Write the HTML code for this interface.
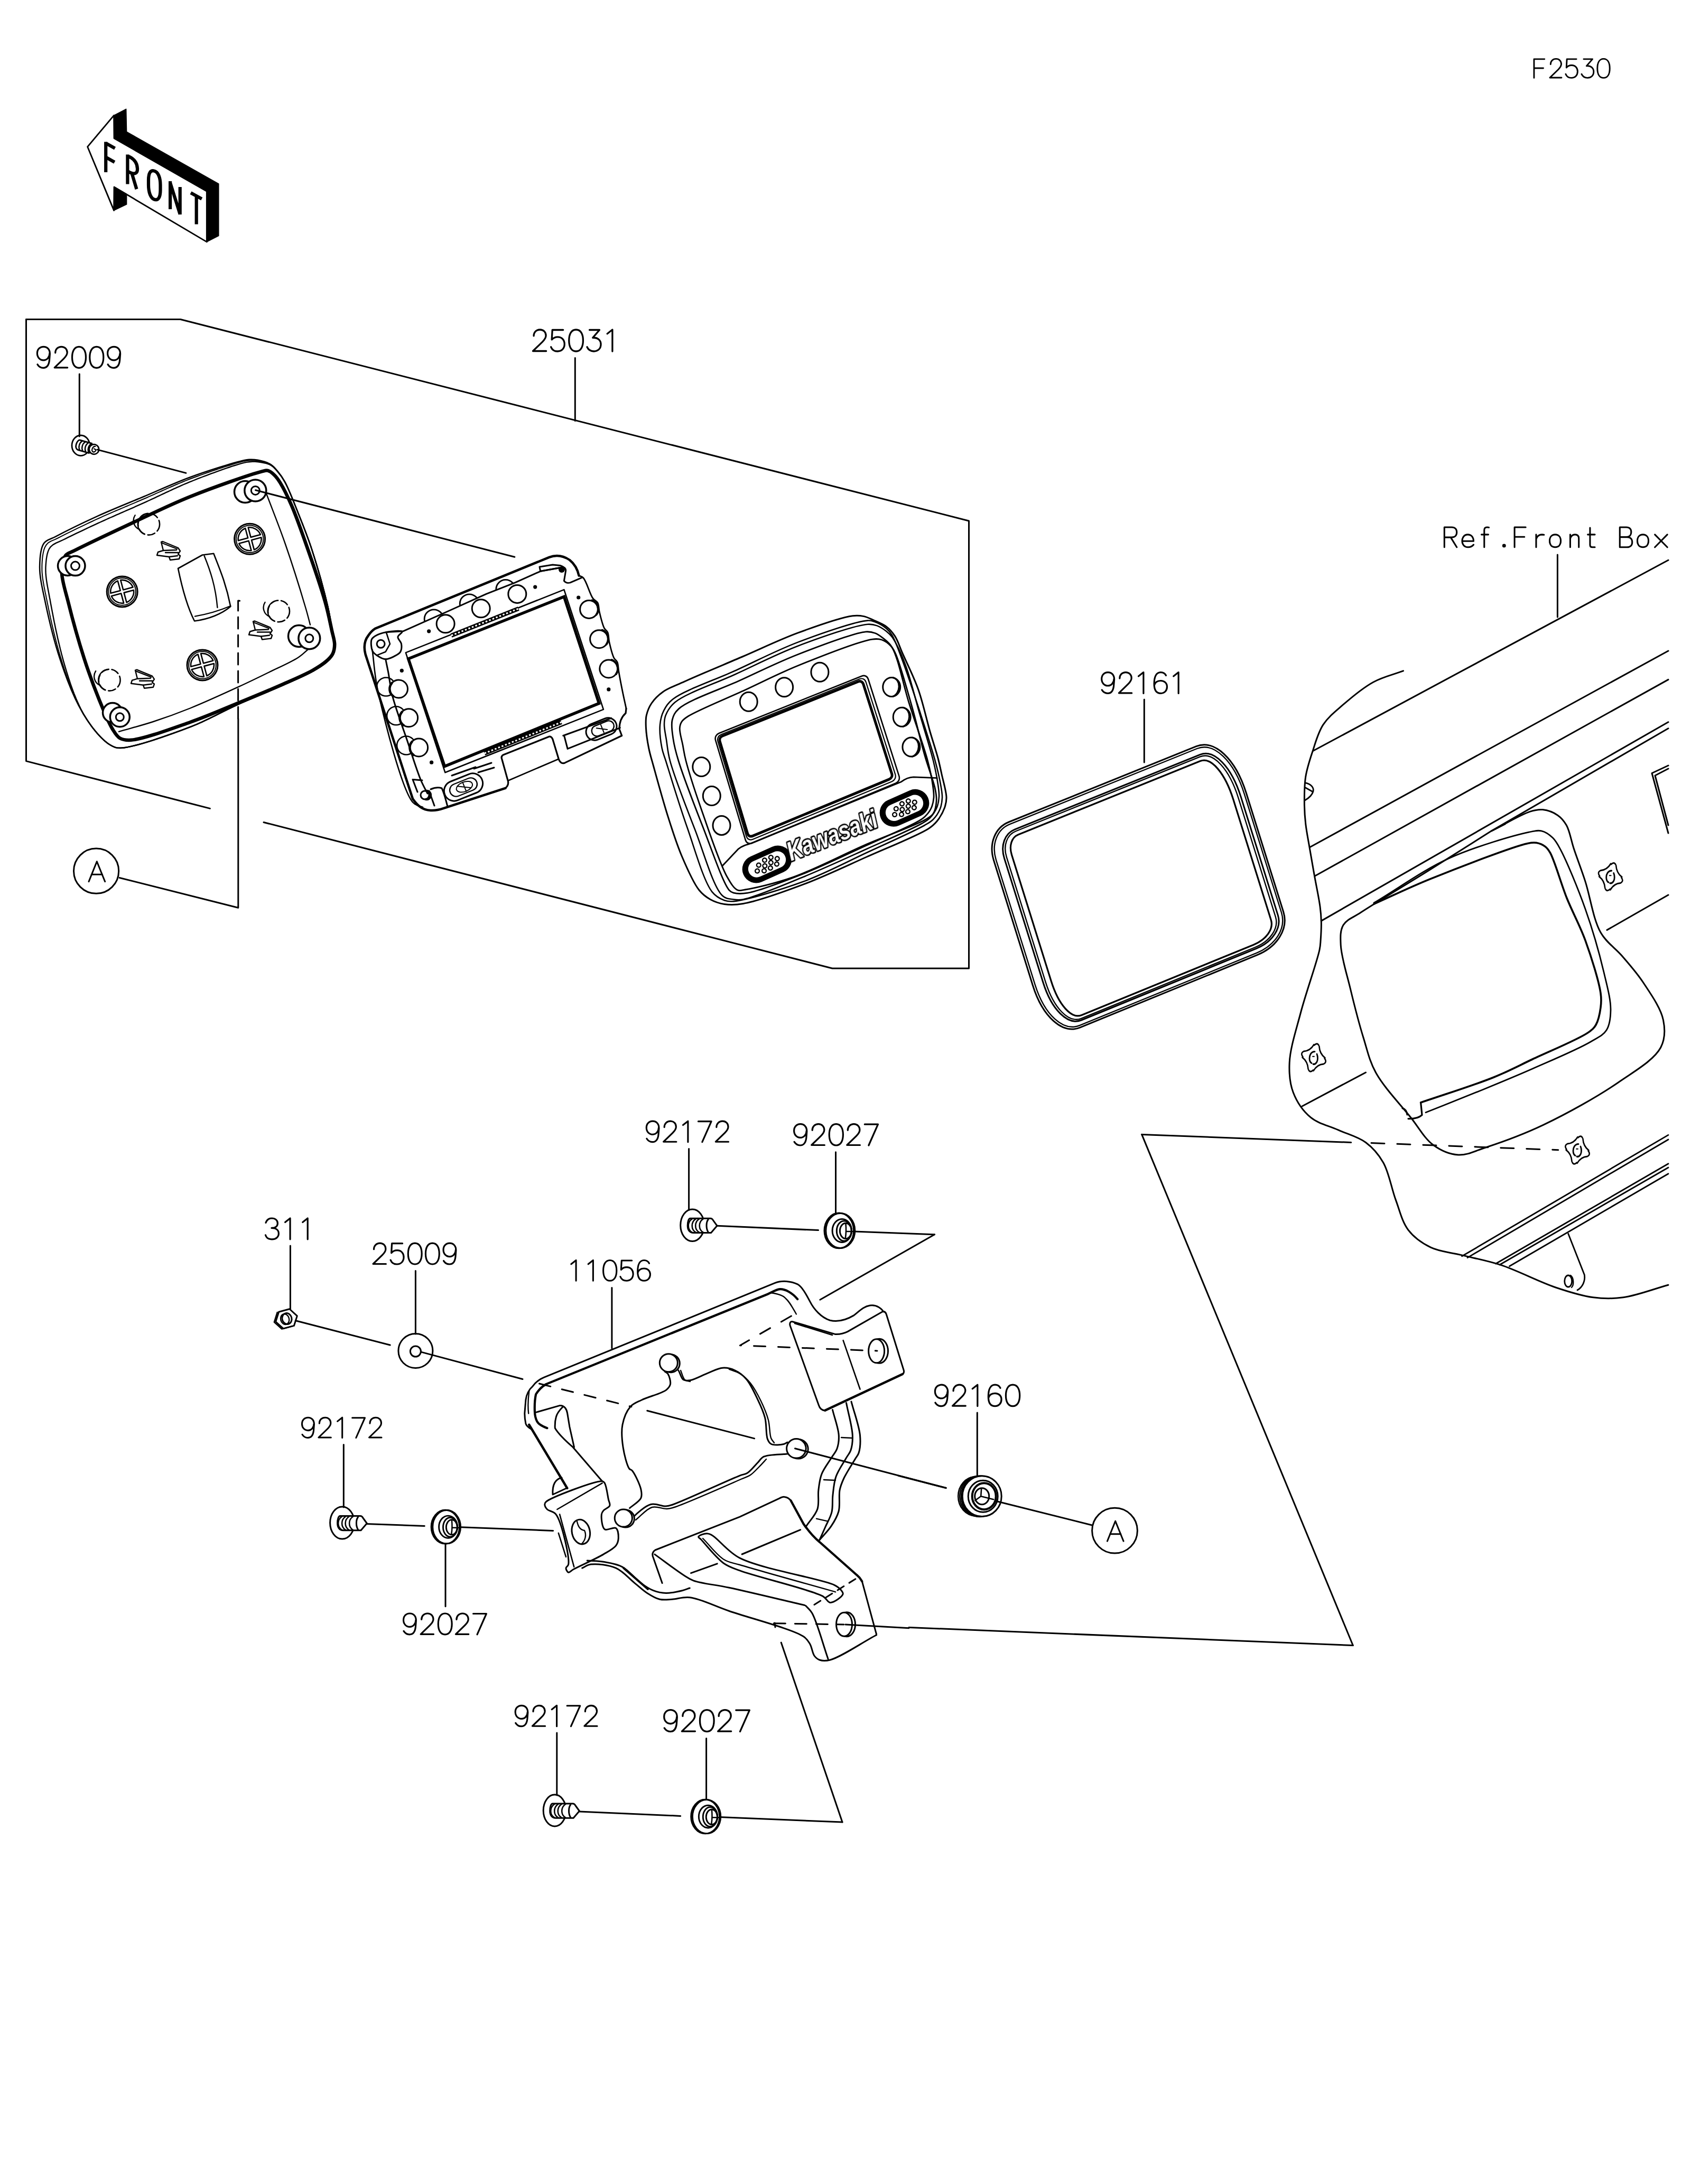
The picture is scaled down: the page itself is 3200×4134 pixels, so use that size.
<!DOCTYPE html>
<html><head><meta charset="utf-8"><style>
html,body{margin:0;padding:0;background:#fff;width:3200px;height:4134px;overflow:hidden}
svg{display:block}
</style></head><body>
<svg xmlns="http://www.w3.org/2000/svg" width="3200" height="4134" viewBox="0 0 3200 4134">
<rect width="3200" height="4134" fill="#fff"/>
<g fill="none" stroke="#000" stroke-linecap="round" stroke-linejoin="round">
<g id="labels" stroke-width="3.2">
<path transform="translate(2902.50 111.40) scale(0.9000)" d="M22.5,0.5 L0.5,0.5 L0.5,40 M0.5,19.5 L20,19.5"/>
<path transform="translate(2932.47 111.40) scale(0.9000)" d="M2,11.5 C2,4.5 7,0 13.5,0 C20,0 24.5,4.5 24.5,11 C24.5,15.5 22,18.5 18,22.5 L0.5,39.5 L25,39.5"/>
<path transform="translate(2962.44 111.40) scale(0.9000)" d="M23,0.5 L3,0.5 L2,18.5 C4.5,15.5 8,13.5 13,13.5 C21,13.5 25.5,19.5 25.5,26.5 C25.5,34.5 20.5,40 12.5,40 C6.5,40 2.5,37 0.5,32"/>
<path transform="translate(2992.41 111.40) scale(0.9000)" d="M5,0.5 L23.5,0.5 L11,15 C20,14 26,19.5 26,27 C26,35 20.5,40 13,40 C7,40 3,37.5 0.5,32"/>
<path transform="translate(3022.38 111.40) scale(0.9000)" d="M13.5,0 C5,0 0.5,8 0.5,20 C0.5,32 5,40 13.5,40 C22,40 26.5,32 26.5,20 C26.5,8 22,0 13.5,0 Z"/>
<path transform="translate(69.40 656.30) scale(1.0000)" d="M24.5,12.5 C24.5,19.5 19.5,25.5 13,25.5 C6,25.5 1,20 1,12.5 C1,5 6,0 13,0 C20,0 25,5 25,13.5 L24,26 C23,35 19,40 12.5,40 C7.5,40 4,37.5 1.5,33.5"/>
<path transform="translate(102.70 656.30) scale(1.0000)" d="M2,11.5 C2,4.5 7,0 13.5,0 C20,0 24.5,4.5 24.5,11 C24.5,15.5 22,18.5 18,22.5 L0.5,39.5 L25,39.5"/>
<path transform="translate(136.00 656.30) scale(1.0000)" d="M13.5,0 C5,0 0.5,8 0.5,20 C0.5,32 5,40 13.5,40 C22,40 26.5,32 26.5,20 C26.5,8 22,0 13.5,0 Z"/>
<path transform="translate(169.30 656.30) scale(1.0000)" d="M13.5,0 C5,0 0.5,8 0.5,20 C0.5,32 5,40 13.5,40 C22,40 26.5,32 26.5,20 C26.5,8 22,0 13.5,0 Z"/>
<path transform="translate(202.60 656.30) scale(1.0000)" d="M24.5,12.5 C24.5,19.5 19.5,25.5 13,25.5 C6,25.5 1,20 1,12.5 C1,5 6,0 13,0 C20,0 25,5 25,13.5 L24,26 C23,35 19,40 12.5,40 C7.5,40 4,37.5 1.5,33.5"/>
<path transform="translate(1008.00 624.00) scale(1.0250)" d="M2,11.5 C2,4.5 7,0 13.5,0 C20,0 24.5,4.5 24.5,11 C24.5,15.5 22,18.5 18,22.5 L0.5,39.5 L25,39.5"/>
<path transform="translate(1042.13 624.00) scale(1.0250)" d="M23,0.5 L3,0.5 L2,18.5 C4.5,15.5 8,13.5 13,13.5 C21,13.5 25.5,19.5 25.5,26.5 C25.5,34.5 20.5,40 12.5,40 C6.5,40 2.5,37 0.5,32"/>
<path transform="translate(1076.26 624.00) scale(1.0250)" d="M13.5,0 C5,0 0.5,8 0.5,20 C0.5,32 5,40 13.5,40 C22,40 26.5,32 26.5,20 C26.5,8 22,0 13.5,0 Z"/>
<path transform="translate(1110.40 624.00) scale(1.0250)" d="M5,0.5 L23.5,0.5 L11,15 C20,14 26,19.5 26,27 C26,35 20.5,40 13,40 C7,40 3,37.5 0.5,32"/>
<path transform="translate(1144.53 624.00) scale(1.0250)" d="M4.5,7.5 L14,0 L14,40"/>
<path transform="translate(2083.70 1272.60) scale(0.9950)" d="M24.5,12.5 C24.5,19.5 19.5,25.5 13,25.5 C6,25.5 1,20 1,12.5 C1,5 6,0 13,0 C20,0 25,5 25,13.5 L24,26 C23,35 19,40 12.5,40 C7.5,40 4,37.5 1.5,33.5"/>
<path transform="translate(2116.83 1272.60) scale(0.9950)" d="M2,11.5 C2,4.5 7,0 13.5,0 C20,0 24.5,4.5 24.5,11 C24.5,15.5 22,18.5 18,22.5 L0.5,39.5 L25,39.5"/>
<path transform="translate(2149.97 1272.60) scale(0.9950)" d="M4.5,7.5 L14,0 L14,40"/>
<path transform="translate(2183.10 1272.60) scale(0.9950)" d="M23.5,6 C21.5,2 17.5,0 13.5,0 C5,0 1,8.5 1,22 C1,34 5.5,40 13.5,40 C21,40 25.5,34.5 25.5,27.5 C25.5,20.5 20.5,16 13.5,16 C7,16 2.5,19.5 1,25"/>
<path transform="translate(2216.23 1272.60) scale(0.9950)" d="M4.5,7.5 L14,0 L14,40"/>
<path transform="translate(2732.80 997.50) scale(0.9575)" d="M0.5,40 L0.5,0.5 L15,0.5 C21.5,0.5 25,4.5 25,10.5 C25,16.5 21.5,20.5 15,20.5 L0.5,20.5 M13,20.5 L25,40"/>
<path transform="translate(2766.00 997.50) scale(0.9575)" d="M1,28 L23.5,28 C23.5,20 19,15 12,15 C5,15 1,21 1,27.5 C1,35 5.5,40 12.5,40 C17,40 21,38.5 23.5,35"/>
<path transform="translate(2799.20 997.50) scale(0.9575)" d="M19,1 C18,0.5 17,0.5 15.5,0.5 C12,0.5 10,2.5 10,6 L10,40 M4.5,15 L18,15"/>
<path transform="translate(2832.40 997.50) scale(0.9575)" d="M12.5,37 a2,2 0 1,0 4,0 a2,2 0 1,0 -4,0"/>
<path transform="translate(2865.60 997.50) scale(0.9575)" d="M22.5,0.5 L0.5,0.5 L0.5,40 M0.5,19.5 L20,19.5"/>
<path transform="translate(2898.80 997.50) scale(0.9575)" d="M8.5,15 L8.5,40 M8.5,24 C10.5,18 15,15 20,15 L24,15.5"/>
<path transform="translate(2932.00 997.50) scale(0.9575)" d="M11.5,15 C4.5,15 0.5,20 0.5,27.5 C0.5,35 4.5,40 11.5,40 C18.5,40 22.5,35 22.5,27.5 C22.5,20 18.5,15 11.5,15 Z"/>
<path transform="translate(2965.20 997.50) scale(0.9575)" d="M6.5,15 L6.5,40 M6.5,23 C8,18 11.5,15 16,15 C21,15 23.5,18 23.5,23 L23.5,40"/>
<path transform="translate(2998.40 997.50) scale(0.9575)" d="M11,1.5 L11,35.5 C11,38.5 12.5,40 15.5,40 L20.5,40 M6.5,15 L20.5,15"/>
<path transform="translate(3064.80 997.50) scale(0.9575)" d="M0.5,0.5 L0.5,40 L15,40 C21.5,40 25,36 25,30 C25,24 21.5,20 15,20 L0.5,20 M0.5,0.5 L13.5,0.5 C19.5,0.5 23,4 23,10 C23,16 19.5,20 13.5,20"/>
<path transform="translate(3098.00 997.50) scale(0.9575)" d="M11.5,15 C4.5,15 0.5,20 0.5,27.5 C0.5,35 4.5,40 11.5,40 C18.5,40 22.5,35 22.5,27.5 C22.5,20 18.5,15 11.5,15 Z"/>
<path transform="translate(3131.20 997.50) scale(0.9575)" d="M0.5,15 L25,40 M25,15 L0.5,40"/>
<path transform="translate(1222.30 2122.20) scale(0.9875)" d="M24.5,12.5 C24.5,19.5 19.5,25.5 13,25.5 C6,25.5 1,20 1,12.5 C1,5 6,0 13,0 C20,0 25,5 25,13.5 L24,26 C23,35 19,40 12.5,40 C7.5,40 4,37.5 1.5,33.5"/>
<path transform="translate(1255.18 2122.20) scale(0.9875)" d="M2,11.5 C2,4.5 7,0 13.5,0 C20,0 24.5,4.5 24.5,11 C24.5,15.5 22,18.5 18,22.5 L0.5,39.5 L25,39.5"/>
<path transform="translate(1288.07 2122.20) scale(0.9875)" d="M4.5,7.5 L14,0 L14,40"/>
<path transform="translate(1320.95 2122.20) scale(0.9875)" d="M0.5,0.5 L25.5,0.5 L8,40"/>
<path transform="translate(1353.84 2122.20) scale(0.9875)" d="M2,11.5 C2,4.5 7,0 13.5,0 C20,0 24.5,4.5 24.5,11 C24.5,15.5 22,18.5 18,22.5 L0.5,39.5 L25,39.5"/>
<path transform="translate(1501.60 2127.70) scale(1.0075)" d="M24.5,12.5 C24.5,19.5 19.5,25.5 13,25.5 C6,25.5 1,20 1,12.5 C1,5 6,0 13,0 C20,0 25,5 25,13.5 L24,26 C23,35 19,40 12.5,40 C7.5,40 4,37.5 1.5,33.5"/>
<path transform="translate(1535.15 2127.70) scale(1.0075)" d="M2,11.5 C2,4.5 7,0 13.5,0 C20,0 24.5,4.5 24.5,11 C24.5,15.5 22,18.5 18,22.5 L0.5,39.5 L25,39.5"/>
<path transform="translate(1568.70 2127.70) scale(1.0075)" d="M13.5,0 C5,0 0.5,8 0.5,20 C0.5,32 5,40 13.5,40 C22,40 26.5,32 26.5,20 C26.5,8 22,0 13.5,0 Z"/>
<path transform="translate(1602.25 2127.70) scale(1.0075)" d="M2,11.5 C2,4.5 7,0 13.5,0 C20,0 24.5,4.5 24.5,11 C24.5,15.5 22,18.5 18,22.5 L0.5,39.5 L25,39.5"/>
<path transform="translate(1635.80 2127.70) scale(1.0075)" d="M0.5,0.5 L25.5,0.5 L8,40"/>
<path transform="translate(502.00 2306.00) scale(0.9950)" d="M1,8.5 C3,3 7.5,0 12.5,0 C19,0 23.5,4 23.5,9.5 C23.5,15 19.5,18.5 12,18.5 M12,18.5 C20.5,18.5 25.5,22.5 25.5,29 C25.5,36 20,40 12.5,40 C6,40 2,37 0.5,32"/>
<path transform="translate(535.13 2306.00) scale(0.9950)" d="M4.5,7.5 L14,0 L14,40"/>
<path transform="translate(568.27 2306.00) scale(0.9950)" d="M4.5,7.5 L14,0 L14,40"/>
<path transform="translate(705.50 2353.20) scale(0.9950)" d="M2,11.5 C2,4.5 7,0 13.5,0 C20,0 24.5,4.5 24.5,11 C24.5,15.5 22,18.5 18,22.5 L0.5,39.5 L25,39.5"/>
<path transform="translate(738.63 2353.20) scale(0.9950)" d="M23,0.5 L3,0.5 L2,18.5 C4.5,15.5 8,13.5 13,13.5 C21,13.5 25.5,19.5 25.5,26.5 C25.5,34.5 20.5,40 12.5,40 C6.5,40 2.5,37 0.5,32"/>
<path transform="translate(771.77 2353.20) scale(0.9950)" d="M13.5,0 C5,0 0.5,8 0.5,20 C0.5,32 5,40 13.5,40 C22,40 26.5,32 26.5,20 C26.5,8 22,0 13.5,0 Z"/>
<path transform="translate(804.90 2353.20) scale(0.9950)" d="M13.5,0 C5,0 0.5,8 0.5,20 C0.5,32 5,40 13.5,40 C22,40 26.5,32 26.5,20 C26.5,8 22,0 13.5,0 Z"/>
<path transform="translate(838.03 2353.20) scale(0.9950)" d="M24.5,12.5 C24.5,19.5 19.5,25.5 13,25.5 C6,25.5 1,20 1,12.5 C1,5 6,0 13,0 C20,0 25,5 25,13.5 L24,26 C23,35 19,40 12.5,40 C7.5,40 4,37.5 1.5,33.5"/>
<path transform="translate(1076.50 2385.50) scale(0.9700)" d="M4.5,7.5 L14,0 L14,40"/>
<path transform="translate(1108.80 2385.50) scale(0.9700)" d="M4.5,7.5 L14,0 L14,40"/>
<path transform="translate(1141.10 2385.50) scale(0.9700)" d="M13.5,0 C5,0 0.5,8 0.5,20 C0.5,32 5,40 13.5,40 C22,40 26.5,32 26.5,20 C26.5,8 22,0 13.5,0 Z"/>
<path transform="translate(1173.40 2385.50) scale(0.9700)" d="M23,0.5 L3,0.5 L2,18.5 C4.5,15.5 8,13.5 13,13.5 C21,13.5 25.5,19.5 25.5,26.5 C25.5,34.5 20.5,40 12.5,40 C6.5,40 2.5,37 0.5,32"/>
<path transform="translate(1205.70 2385.50) scale(0.9700)" d="M23.5,6 C21.5,2 17.5,0 13.5,0 C5,0 1,8.5 1,22 C1,34 5.5,40 13.5,40 C21,40 25.5,34.5 25.5,27.5 C25.5,20.5 20.5,16 13.5,16 C7,16 2.5,19.5 1,25"/>
<path transform="translate(1768.40 2621.20) scale(1.0100)" d="M24.5,12.5 C24.5,19.5 19.5,25.5 13,25.5 C6,25.5 1,20 1,12.5 C1,5 6,0 13,0 C20,0 25,5 25,13.5 L24,26 C23,35 19,40 12.5,40 C7.5,40 4,37.5 1.5,33.5"/>
<path transform="translate(1802.03 2621.20) scale(1.0100)" d="M2,11.5 C2,4.5 7,0 13.5,0 C20,0 24.5,4.5 24.5,11 C24.5,15.5 22,18.5 18,22.5 L0.5,39.5 L25,39.5"/>
<path transform="translate(1835.67 2621.20) scale(1.0100)" d="M4.5,7.5 L14,0 L14,40"/>
<path transform="translate(1869.30 2621.20) scale(1.0100)" d="M23.5,6 C21.5,2 17.5,0 13.5,0 C5,0 1,8.5 1,22 C1,34 5.5,40 13.5,40 C21,40 25.5,34.5 25.5,27.5 C25.5,20.5 20.5,16 13.5,16 C7,16 2.5,19.5 1,25"/>
<path transform="translate(1902.93 2621.20) scale(1.0100)" d="M13.5,0 C5,0 0.5,8 0.5,20 C0.5,32 5,40 13.5,40 C22,40 26.5,32 26.5,20 C26.5,8 22,0 13.5,0 Z"/>
<path transform="translate(570.50 2683.20) scale(0.9575)" d="M24.5,12.5 C24.5,19.5 19.5,25.5 13,25.5 C6,25.5 1,20 1,12.5 C1,5 6,0 13,0 C20,0 25,5 25,13.5 L24,26 C23,35 19,40 12.5,40 C7.5,40 4,37.5 1.5,33.5"/>
<path transform="translate(602.38 2683.20) scale(0.9575)" d="M2,11.5 C2,4.5 7,0 13.5,0 C20,0 24.5,4.5 24.5,11 C24.5,15.5 22,18.5 18,22.5 L0.5,39.5 L25,39.5"/>
<path transform="translate(634.27 2683.20) scale(0.9575)" d="M4.5,7.5 L14,0 L14,40"/>
<path transform="translate(666.15 2683.20) scale(0.9575)" d="M0.5,0.5 L25.5,0.5 L8,40"/>
<path transform="translate(698.04 2683.20) scale(0.9575)" d="M2,11.5 C2,4.5 7,0 13.5,0 C20,0 24.5,4.5 24.5,11 C24.5,15.5 22,18.5 18,22.5 L0.5,39.5 L25,39.5"/>
<path transform="translate(762.50 3054.00) scale(0.9950)" d="M24.5,12.5 C24.5,19.5 19.5,25.5 13,25.5 C6,25.5 1,20 1,12.5 C1,5 6,0 13,0 C20,0 25,5 25,13.5 L24,26 C23,35 19,40 12.5,40 C7.5,40 4,37.5 1.5,33.5"/>
<path transform="translate(795.63 3054.00) scale(0.9950)" d="M2,11.5 C2,4.5 7,0 13.5,0 C20,0 24.5,4.5 24.5,11 C24.5,15.5 22,18.5 18,22.5 L0.5,39.5 L25,39.5"/>
<path transform="translate(828.77 3054.00) scale(0.9950)" d="M13.5,0 C5,0 0.5,8 0.5,20 C0.5,32 5,40 13.5,40 C22,40 26.5,32 26.5,20 C26.5,8 22,0 13.5,0 Z"/>
<path transform="translate(861.90 3054.00) scale(0.9950)" d="M2,11.5 C2,4.5 7,0 13.5,0 C20,0 24.5,4.5 24.5,11 C24.5,15.5 22,18.5 18,22.5 L0.5,39.5 L25,39.5"/>
<path transform="translate(895.03 3054.00) scale(0.9950)" d="M0.5,0.5 L25.5,0.5 L8,40"/>
<path transform="translate(974.20 3228.30) scale(0.9850)" d="M24.5,12.5 C24.5,19.5 19.5,25.5 13,25.5 C6,25.5 1,20 1,12.5 C1,5 6,0 13,0 C20,0 25,5 25,13.5 L24,26 C23,35 19,40 12.5,40 C7.5,40 4,37.5 1.5,33.5"/>
<path transform="translate(1007.00 3228.30) scale(0.9850)" d="M2,11.5 C2,4.5 7,0 13.5,0 C20,0 24.5,4.5 24.5,11 C24.5,15.5 22,18.5 18,22.5 L0.5,39.5 L25,39.5"/>
<path transform="translate(1039.80 3228.30) scale(0.9850)" d="M4.5,7.5 L14,0 L14,40"/>
<path transform="translate(1072.60 3228.30) scale(0.9850)" d="M0.5,0.5 L25.5,0.5 L8,40"/>
<path transform="translate(1105.40 3228.30) scale(0.9850)" d="M2,11.5 C2,4.5 7,0 13.5,0 C20,0 24.5,4.5 24.5,11 C24.5,15.5 22,18.5 18,22.5 L0.5,39.5 L25,39.5"/>
<path transform="translate(1255.70 3236.60) scale(1.0250)" d="M24.5,12.5 C24.5,19.5 19.5,25.5 13,25.5 C6,25.5 1,20 1,12.5 C1,5 6,0 13,0 C20,0 25,5 25,13.5 L24,26 C23,35 19,40 12.5,40 C7.5,40 4,37.5 1.5,33.5"/>
<path transform="translate(1289.83 3236.60) scale(1.0250)" d="M2,11.5 C2,4.5 7,0 13.5,0 C20,0 24.5,4.5 24.5,11 C24.5,15.5 22,18.5 18,22.5 L0.5,39.5 L25,39.5"/>
<path transform="translate(1323.97 3236.60) scale(1.0250)" d="M13.5,0 C5,0 0.5,8 0.5,20 C0.5,32 5,40 13.5,40 C22,40 26.5,32 26.5,20 C26.5,8 22,0 13.5,0 Z"/>
<path transform="translate(1358.10 3236.60) scale(1.0250)" d="M2,11.5 C2,4.5 7,0 13.5,0 C20,0 24.5,4.5 24.5,11 C24.5,15.5 22,18.5 18,22.5 L0.5,39.5 L25,39.5"/>
<path transform="translate(1392.23 3236.60) scale(1.0250)" d="M0.5,0.5 L25.5,0.5 L8,40"/>
</g>
<circle cx="182.1" cy="1648.7" r="42.6" stroke-width="3"/>
<path stroke-width="3" d="M168.0,1668.7 L183.3,1630.7 L198.7,1668.7 M173.1,1655.2 L193.6,1655.2"/>
<circle cx="2109.5" cy="2897.2" r="42.9" stroke-width="3"/>
<path stroke-width="3" d="M2095.4,2917.2 L2110.7,2879.2 L2126.1,2917.2 M2100.5,2903.7 L2121.0,2903.7"/>
<path d="M49.5,604.5 L341.5,604.5 L1833.5,986.0 L1833.5,1833.0 L1575.0,1833.0 L499.0,1556.5" stroke-width="3.0"/>
<path d="M397.4,1530.4 L49.5,1440.6 L49.5,604.5" stroke-width="3.0"/>
<path d="M1088.3,677.4 L1088.3,796.5" stroke-width="3.0"/>
<path d="M150.3,708.0 L150.3,826.0" stroke-width="3.0"/>
<path d="M2165.3,1324.0 L2165.3,1443.0" stroke-width="3.0"/>
<path d="M2947.4,1050.0 L2947.4,1168.0" stroke-width="3.0"/>
<path d="M1303.6,2174.6 L1303.6,2290.0" stroke-width="3.0"/>
<path d="M1581.5,2180.8 L1581.5,2298.0" stroke-width="3.0"/>
<path d="M549.4,2358.0 L549.4,2478.0" stroke-width="3.0"/>
<path d="M786.4,2405.4 L786.4,2525.0" stroke-width="3.0"/>
<path d="M1157.9,2437.6 L1157.9,2552.0" stroke-width="3.0"/>
<path d="M1849.3,2674.0 L1849.3,2794.0" stroke-width="3.0"/>
<path d="M650.3,2734.5 L650.3,2853.0" stroke-width="3.0"/>
<path d="M843.0,2923.3 L843.0,3040.8" stroke-width="3.0"/>
<path d="M1053.8,3280.0 L1053.8,3398.0" stroke-width="3.0"/>
<path d="M1336.6,3290.4 L1336.6,3406.3" stroke-width="3.0"/>
<path d="M226.1,1661.5 L450.8,1718.3 L450.8,1360.5" stroke-width="3.0"/>
<path d="M450.6,1360 L450.6,1137 L465,1138.5" stroke-width="3.0" stroke-dasharray="22 12"/>
<path fill="#000" stroke="#000" stroke-width="1.5" d="M215.6,218.4 L238.7,206.3 L239.6,249.4 L413.8,347.9 L413.8,446.3 L391.3,457.9 L391.3,362 L216,261.8 Z"/>
<path fill="#000" stroke="#000" stroke-width="1.5" d="M216,354 L239.6,367.4 L239.6,386.9 L215.6,398.4 Z"/>
<path fill="none" stroke="#000" stroke-width="2.8" d="M165.6,277.8 L215.6,218.4 L216,261.8 L391.3,362 L391.3,457.9 L216,354 L215.6,398.4 Z"/>
<g stroke-width="6.2" stroke-linecap="butt" stroke-linejoin="miter" fill="none">
<path d="M200.2,268.5 L200.2,326 M200.2,271 L217.5,280.8 M200.2,297.5 L216.8,307"/>
<path d="M241.4,292.5 L241.4,348.5 M241.4,295.5 C252,299 259.5,307 260,319 C260.5,328 255,331 246,326.5 L241.4,324 M249.5,328 L258.5,358"/>
<path d="M291.5,323.5 C299,325 303.5,336 303.5,350 L303.5,360 C303.5,374 299,380 292,377.5 C285,375 281,364 281,350 L281,341 C281,327 285,322 291.5,323.5 Z"/>
<path d="M322.1,343 L322.1,396 M322.1,346 L340.7,405.5 M340.7,354 L340.7,406"/>
<path d="M361,365 L381.8,376.5 M371.7,370.5 L371.7,424.5"/>
</g>
<path stroke-width="2.6" d="M75.1,1072.9 C75.3,1056.6 76.3,1038.0 83.0,1028.5 C87.9,1021.5 94.9,1021.2 104.4,1016.1 C122.4,1006.5 156.8,989.6 184.2,977.1 C212.6,964.2 242.7,952.3 272.0,940.0 C301.3,927.7 329.7,914.3 360.0,903.2 C391.4,891.7 439.5,876.5 457.6,872.2 C464.4,870.6 466.9,870.1 471.8,869.9 C476.9,869.6 481.9,869.8 487.7,870.9 C495.2,872.4 506.0,875.2 512.6,879.3 C518.2,882.8 521.7,887.5 525.9,892.6 C530.6,898.3 534.5,903.6 539.2,912.1 C546.8,926.1 555.8,950.1 564.0,970.6 C573.0,993.0 582.0,1015.2 590.6,1041.6 C601.1,1073.7 614.4,1122.0 620.8,1150.0 C624.8,1167.5 626.1,1180.3 628.5,1193.0 C630.4,1203.1 633.9,1211.7 634.0,1220.0 C634.1,1227.0 633.2,1233.7 630.5,1239.3 C627.8,1244.8 623.4,1248.9 618.0,1253.5 C610.9,1259.6 601.5,1265.3 590.6,1271.3 C576.0,1279.4 557.5,1287.0 537.4,1296.0 C511.7,1307.5 478.2,1320.9 448.7,1334.2 C419.0,1347.6 393.0,1363.3 360.0,1376.0 C321.0,1391.0 252.1,1415.4 228.5,1415.9 C219.9,1416.1 216.9,1414.6 210.8,1411.4 C202.3,1407.0 193.0,1398.4 184.2,1388.4 C172.3,1374.9 159.6,1355.8 148.7,1335.1 C135.4,1309.9 123.4,1277.7 113.2,1246.4 C102.2,1212.9 92.3,1171.5 85.7,1140.0 C80.5,1115.2 74.9,1093.0 75.1,1072.9 Z"/>
<path stroke-width="2" d="M618.4,1140.0 L619.5,1144.4 L620.5,1148.7 L621.5,1153.2 L622.4,1157.7 L623.3,1162.2 L624.1,1166.7 L624.9,1171.3 L625.7,1175.9 L626.4,1180.6 L627.2,1185.3 L628.0,1190.1 L628.9,1195.0 L630.1,1200.0 L631.4,1205.2 L632.7,1210.4 L633.7,1215.6 L634.0,1220.7 L633.8,1225.7 L633.2,1230.6 L632.0,1235.4 L630.2,1239.9 L627.5,1244.0 L624.2,1247.9 L620.3,1251.5 L616.4,1254.9 L612.1,1258.1 L607.7,1261.1 L603.2,1264.0 L598.6,1266.7 L594.1,1269.4 L589.5,1271.9 L584.9,1274.3 L580.4,1276.6 L575.8,1278.8 L571.3,1280.9 L566.8,1283.0 L562.4,1285.0 L558.0,1286.9 L553.7,1288.8 L549.5,1290.6 L545.4,1292.5 L541.3,1294.3 L537.3,1296.0 L533.4,1297.8 L529.5,1299.5 L525.6,1301.2 L521.8,1302.8 L518.1,1304.4 L514.3,1306.0 L510.6,1307.6 L507.0,1309.1 L503.3,1310.7 L499.8,1312.2 L496.2,1313.7 L492.7,1315.2 L489.2,1316.7 L485.7,1318.1 L482.2,1319.6 L478.8,1321.1 L475.4,1322.5 L472.0,1324.0 L468.6,1325.4 L465.2,1326.9 L461.9,1328.4 L458.5,1329.8 L455.2,1331.3 L451.8,1332.8 L448.5,1334.3 L445.2,1335.8 L441.8,1337.4 L438.5,1339.0 L435.2,1340.6 L431.8,1342.2 L428.5,1343.9 L425.1,1345.5 L421.7,1347.2 L418.2,1349.0 L414.8,1350.7 L411.3,1352.5 L407.8,1354.3 L404.2,1356.0 L400.6,1357.8 L397.0,1359.6 L393.3,1361.4 L389.5,1363.2 L385.7,1365.0 L381.9,1366.8 L378.0,1368.5 L374.0,1370.3 L370.0,1372.0 L365.9,1373.6 L361.8,1375.3 L357.6,1376.9 L353.3,1378.5 L349.0,1380.2 L344.6,1381.8 L340.1,1383.5 L335.5,1385.1 L330.9,1386.8 L326.2,1388.5 L321.4,1390.2 L316.4,1392.0 L311.4,1393.7 L306.3,1395.5 L301.1,1397.2 L295.7,1399.0 L290.3,1400.8 L284.7,1402.6 L279.0,1404.3 L273.1,1406.1 L267.2,1407.8 L261.1,1409.5 L254.9,1411.2 L248.6,1412.7 L242.2,1414.1 L235.8,1415.2 L229.5,1415.8 L223.4,1415.8 L217.8,1414.6 L212.7,1412.4 L207.9,1409.7 L203.4,1406.7 L199.1,1403.2 L194.9,1399.5 L191.0,1395.7 L187.2,1391.7 L183.5,1387.5 L179.9,1383.3 L176.5,1379.0 L173.2,1374.6 L170.0,1370.1 L166.9,1365.6 L163.9,1361.1 L161.0,1356.5 L158.1,1351.9 L155.5,1347.2 L152.9,1342.5 L150.4,1337.7 L148.0,1333.0 L145.7,1328.2 L143.5,1323.4 L141.3,1318.6 L139.3,1313.9 L137.3,1309.1 L135.4,1304.3 L133.5,1299.5 L131.7,1294.8 L129.9,1290.0 L128.2,1285.3 L126.5,1280.6 L124.9,1275.9 L123.3,1271.2 L121.7,1266.5 L120.2,1261.8 L118.7,1257.2 L117.2,1252.5 L115.8,1247.9 L114.4,1243.3 L113.0,1238.7 L111.6,1234.0 L110.3,1229.4 L109.1,1224.8 L107.8,1220.2 L106.6,1215.5 L105.4,1210.9 L104.2,1206.3 L103.0,1201.6 L101.9,1197.0 L100.8,1192.3 L99.7,1187.7 L98.6,1183.0 L97.5,1178.3 L96.5,1173.6 L95.4,1168.9 L94.4,1164.1 L93.4,1159.3 L92.4,1154.6 L91.4,1149.7 L90.4,1144.9 L89.4,1140.0 L88.4,1135.1 L87.4,1130.1 L86.4,1125.1 L85.3,1120.1 L84.3,1115.0 L83.3,1109.9 L82.4,1104.7 L81.5,1099.5 L80.7,1094.2 L80.1,1088.9 L79.6,1083.6 L79.4,1078.2 L79.4,1072.9 L79.5,1067.6 L79.8,1062.2 L80.2,1056.9 L80.9,1051.6 L81.8,1046.3 L83.0,1041.2 L84.8,1036.2 L87.5,1031.5 L91.3,1027.4 L96.9,1024.1 L103.5,1021.3 L109.5,1018.5 L115.1,1015.7 L120.5,1012.9 L125.9,1010.2 L131.1,1007.6 L136.3,1005.1 L141.3,1002.6 L146.3,1000.2 L151.1,997.9 L155.9,995.6 L160.6,993.3 L165.2,991.2 L169.7,989.0 L174.1,987.0 L178.5,984.9 L182.8,982.9 L187.1,981.0 L191.3,979.1 L195.4,977.2 L199.5,975.4 L203.6,973.6 L207.6,971.8 L211.6,970.1 L215.5,968.4 L219.4,966.8 L223.3,965.1 L227.1,963.5 L230.9,961.9 L234.6,960.3 L238.3,958.7 L242.0,957.2 L245.7,955.6 L249.3,954.1 L252.9,952.6 L256.5,951.1 L260.0,949.5 L263.6,948.0 L267.1,946.5 L270.6,945.0 L274.2,943.5 L277.7,942.0 L281.1,940.4 L284.6,938.9 L288.1,937.4 L291.6,935.8 L295.1,934.2 L298.6,932.7 L302.1,931.1 L305.6,929.5 L309.2,927.9 L312.7,926.3 L316.3,924.7 L319.9,923.1 L323.6,921.5 L327.2,920.0 L330.9,918.3 L334.6,916.8 L338.4,915.2 L342.2,913.6 L346.0,912.0 L349.9,910.4 L353.8,908.9 L357.8,907.3 L361.8,905.8 L365.9,904.2 L370.0,902.7 L374.2,901.2 L378.4,899.6 L382.7,898.1 L387.0,896.6 L391.4,895.0 L395.9,893.5 L400.5,891.9 L405.1,890.3 L409.8,888.7 L414.6,887.1 L419.5,885.5 L424.4,883.9 L429.5,882.3 L434.7,880.7 L439.9,879.0 L445.3,877.4 L450.8,875.8 L456.3,874.3 L462.0,872.9 L467.6,871.9 L473.1,871.4 L478.5,871.3 L483.9,871.7 L489.1,872.4 L494.3,873.4 L499.4,874.7 L504.4,876.2 L509.3,878.1 L513.8,880.6 L517.9,883.9 L521.5,887.8 L525.0,891.9 L528.4,896.1 L531.7,900.3 L534.7,904.8 L537.5,909.4 L540.1,914.2 L542.6,919.1 L544.9,924.0 L547.1,928.9 L549.2,933.8 L551.3,938.7 L553.2,943.5 L555.2,948.3 L557.0,953.0 L558.9,957.6 L560.7,962.2 L562.5,966.7 L564.2,971.2 L566.0,975.6 L567.7,979.9 L569.4,984.2 L571.1,988.4 L572.8,992.7 L574.4,996.9 L576.0,1001.0 L577.6,1005.2 L579.2,1009.3 L580.7,1013.4 L582.2,1017.5 L583.7,1021.5 L585.2,1025.6 L586.6,1029.6 L588.0,1033.7 L589.3,1037.7 L590.7,1041.8 L591.9,1045.8 L593.2,1049.8 L594.5,1053.8 L595.7,1057.8 L596.9,1061.9 L598.1,1065.9 L599.3,1069.9 L600.5,1073.9 L601.7,1077.9 L602.9,1081.9 L604.0,1086.0 L605.2,1090.0 L606.3,1094.1 L607.4,1098.1 L608.6,1102.2 L609.7,1106.3 L610.8,1110.4 L611.9,1114.6 L613.0,1118.7 L614.1,1122.9 L615.2,1127.1 L616.3,1131.4 L617.4,1135.7 Z"/>
<path stroke-width="2.4" d="M618.4,1140.0 L619.5,1144.4 L620.5,1148.7 L621.5,1153.2 L622.4,1157.7 L623.3,1162.2 L624.1,1166.7 L624.9,1171.3 L625.7,1175.9 L626.4,1180.6 L627.2,1185.3 L628.0,1190.1 L628.9,1195.0 L630.1,1200.0 L631.4,1205.2 L632.7,1210.4 L633.7,1215.6 L634.0,1220.7 L633.8,1225.7 L633.2,1230.6 L632.0,1235.4 L630.2,1239.9 L627.5,1244.0 L624.2,1247.9 L620.3,1251.5 L616.4,1254.9 L612.1,1258.1 L607.7,1261.1 L603.2,1264.0 L598.6,1266.7 L594.1,1269.4 L589.5,1271.9 L584.9,1274.3 L580.4,1276.6 L575.8,1278.8 L571.3,1280.9 L566.8,1283.0 L562.4,1285.0 L558.0,1286.9 L553.7,1288.8 L549.5,1290.6 L545.4,1292.5 L541.3,1294.3 L537.3,1296.0 L533.4,1297.8 L529.5,1299.5 L525.6,1301.2 L521.8,1302.8 L518.1,1304.4 L514.3,1306.0 L510.6,1307.6 L507.0,1309.1 L503.3,1310.7 L499.8,1312.2 L496.2,1313.7 L492.7,1315.2 L489.2,1316.7 L485.7,1318.1 L482.2,1319.6 L478.8,1321.1 L475.4,1322.5 L472.0,1324.0 L468.6,1325.4 L465.2,1326.9 L461.9,1328.4 L458.5,1329.8 L455.2,1331.3 L451.8,1332.8 L448.5,1334.3 L445.2,1335.8 L441.8,1337.4 L438.5,1339.0 L435.2,1340.6 L431.8,1342.2 L428.5,1343.9 L425.1,1345.5 L421.7,1347.2 L418.2,1349.0 L414.8,1350.7 L411.3,1352.5 L407.8,1354.3 L404.2,1356.0 L400.6,1357.8 L397.0,1359.6 L393.3,1361.4 L389.5,1363.2 L385.7,1365.0 L381.9,1366.8 L378.0,1368.5 L374.0,1370.3 L370.0,1372.0 L365.9,1373.6 L361.8,1375.3 L357.6,1376.9 L353.3,1378.5 L349.0,1380.2 L344.6,1381.8 L340.1,1383.5 L335.5,1385.1 L330.9,1386.8 L326.2,1388.5 L321.4,1390.2 L316.4,1392.0 L311.4,1393.7 L306.3,1395.5 L301.1,1397.2 L295.7,1399.0 L290.3,1400.8 L284.7,1402.6 L279.0,1404.3 L273.1,1406.1 L267.2,1407.8 L261.1,1409.5 L254.9,1411.2 L248.6,1412.7 L242.2,1414.1 L235.8,1415.2 L229.5,1415.8 L223.4,1415.8 L217.8,1414.6 L212.7,1412.4 L207.9,1409.7 L203.4,1406.7 L199.1,1403.2 L194.9,1399.5 L191.0,1395.7 L187.2,1391.7 L183.5,1387.5 L179.9,1383.3 L176.5,1379.0 L173.2,1374.6 L170.0,1370.1 L166.9,1365.6 L163.9,1361.1 L161.0,1356.5 L158.1,1351.9 L155.6,1347.1 L153.1,1342.3 L150.7,1337.4 L148.5,1332.6 L146.3,1327.7 L144.2,1322.9 L142.2,1318.0 L140.2,1313.1 L138.4,1308.3 L136.6,1303.4 L134.9,1298.6 L133.2,1293.8 L131.6,1289.0 L130.0,1284.2 L128.5,1279.4 L127.0,1274.7 L125.6,1270.0 L124.2,1265.3 L122.8,1260.6 L121.4,1255.9 L120.1,1251.3 L118.8,1246.6 L117.6,1242.0 L116.3,1237.4 L115.2,1232.8 L114.0,1228.2 L112.9,1223.5 L111.8,1219.0 L110.7,1214.4 L109.6,1209.8 L108.6,1205.2 L107.6,1200.6 L106.6,1196.0 L105.6,1191.4 L104.6,1186.8 L103.7,1182.2 L102.7,1177.6 L101.8,1172.9 L100.9,1168.3 L100.0,1163.6 L99.1,1158.9 L98.2,1154.2 L97.3,1149.5 L96.4,1144.8 L95.5,1140.0 L94.7,1135.2 L93.7,1130.4 L92.8,1125.5 L91.9,1120.6 L90.9,1115.6 L90.0,1110.6 L89.1,1105.5 L88.3,1100.4 L87.6,1095.3 L87.0,1090.1 L86.6,1084.9 L86.4,1079.7 L86.4,1074.5 L86.7,1069.4 L87.1,1064.2 L87.6,1059.0 L88.4,1053.9 L89.4,1048.8 L90.9,1043.9 L92.9,1039.1 L96.0,1034.8 L100.3,1031.1 L106.0,1027.9 L112.3,1025.2 L118.1,1022.5 L123.6,1019.8 L128.9,1017.2 L134.2,1014.6 L139.3,1012.1 L144.3,1009.7 L149.2,1007.4 L154.1,1005.1 L158.8,1002.8 L163.4,1000.7 L167.9,998.5 L172.4,996.4 L176.8,994.4 L181.1,992.4 L185.3,990.4 L189.5,988.5 L193.6,986.7 L197.6,984.8 L201.6,983.0 L205.6,981.2 L209.5,979.5 L213.4,977.8 L217.2,976.1 L220.9,974.4 L224.7,972.8 L228.4,971.2 L232.0,969.6 L235.6,968.0 L239.2,966.4 L242.8,964.9 L246.3,963.3 L249.8,961.8 L253.3,960.3 L256.7,958.7 L260.2,957.2 L263.6,955.7 L267.0,954.2 L270.4,952.6 L273.8,951.1 L277.1,949.6 L280.5,948.0 L283.8,946.5 L287.2,944.9 L290.6,943.4 L293.9,941.8 L297.3,940.2 L300.7,938.6 L304.1,937.0 L307.5,935.4 L310.9,933.8 L314.3,932.2 L317.8,930.6 L321.3,929.0 L324.8,927.3 L328.3,925.7 L331.9,924.1 L335.5,922.4 L339.2,920.8 L342.9,919.2 L346.6,917.5 L350.4,915.9 L354.2,914.3 L358.1,912.7 L362.0,911.1 L366.0,909.5 L370.0,907.9 L374.1,906.2 L378.2,904.6 L382.4,903.0 L386.7,901.4 L391.0,899.8 L395.4,898.1 L399.9,896.4 L404.5,894.8 L409.1,893.1 L413.8,891.4 L418.7,889.7 L423.6,887.9 L428.6,886.2 L433.7,884.5 L438.9,882.7 L444.3,881.0 L449.7,879.3 L455.3,877.6 L460.9,876.1 L466.5,874.9 L472.0,874.2 L477.6,873.8 L483.0,873.8 L488.3,874.3 L493.6,875.0 L498.8,876.0 L503.9,877.2 L508.9,878.8 L513.5,881.2 L517.6,884.4 L521.3,888.2 L524.8,892.3 L528.2,896.4 L531.5,900.6 L534.5,905.1 L537.3,909.7 L540.0,914.4 L542.5,919.2 L544.8,924.1 L547.0,929.0 L549.2,933.9 L551.2,938.7 L553.2,943.5 L555.1,948.3 L557.0,953.0 L558.9,957.6 L560.7,962.2 L562.5,966.7 L564.2,971.2 L566.0,975.6 L567.7,979.9 L569.4,984.2 L571.1,988.4 L572.8,992.7 L574.4,996.9 L576.0,1001.0 L577.6,1005.2 L579.2,1009.3 L580.7,1013.4 L582.2,1017.5 L583.7,1021.5 L585.2,1025.6 L586.6,1029.6 L588.0,1033.7 L589.3,1037.7 L590.7,1041.8 L591.9,1045.8 L593.2,1049.8 L594.5,1053.8 L595.7,1057.8 L596.9,1061.9 L598.1,1065.9 L599.3,1069.9 L600.5,1073.9 L601.7,1077.9 L602.9,1081.9 L604.0,1086.0 L605.2,1090.0 L606.3,1094.1 L607.4,1098.1 L608.6,1102.2 L609.7,1106.3 L610.8,1110.4 L611.9,1114.6 L613.0,1118.7 L614.1,1122.9 L615.2,1127.1 L616.3,1131.4 L617.4,1135.7 Z"/>
<path stroke-width="6.5" d="M116.8,1081.7 C116.9,1070.0 119.0,1058.1 123.9,1051.6 C127.7,1046.6 132.0,1046.7 139.8,1042.7 C159.9,1032.3 213.2,1007.2 250.0,990.0 C286.6,972.9 321.1,955.6 360.0,940.0 C402.3,923.0 473.8,897.8 494.8,892.6 C501.0,891.1 503.2,889.8 507.2,890.8 C511.6,891.9 516.0,896.0 519.7,899.7 C523.7,903.6 526.5,907.7 530.3,913.9 C536.6,924.1 544.5,940.2 551.6,956.4 C560.5,976.8 568.9,1000.9 578.2,1027.4 C589.9,1060.5 606.8,1109.3 615.5,1140.0 C621.4,1160.9 624.7,1178.5 627.9,1193.2 C630.1,1203.6 633.2,1211.8 633.2,1219.8 C633.2,1226.3 632.2,1232.3 629.6,1237.6 C626.9,1243.0 622.5,1247.2 617.2,1251.8 C610.3,1257.8 601.3,1263.5 590.6,1269.5 C576.2,1277.6 557.5,1285.4 537.4,1294.3 C511.7,1305.7 478.3,1319.5 448.7,1331.6 C419.2,1343.7 391.5,1356.0 360.0,1367.0 C325.1,1379.2 270.7,1399.4 248.0,1400.8 C238.3,1401.4 232.7,1400.6 226.8,1397.2 C220.8,1393.7 217.5,1387.4 212.6,1379.5 C204.7,1366.6 195.9,1344.6 187.7,1324.5 C178.1,1300.9 168.4,1274.6 159.3,1246.4 C148.8,1213.8 136.7,1170.3 129.2,1140.0 C123.7,1117.8 116.6,1097.9 116.8,1081.7 Z"/>
<path stroke-width="2.4" d="M503.7,933.4 C515.8,965.6 528.2,995.9 540.0,1030.0 C553.1,1067.7 570.1,1122.5 578.2,1150.0 C582.4,1164.2 584.1,1171.7 587.0,1182.6"/>
<path stroke-width="2.4" d="M583.5,1228.7 C577.0,1234.0 572.5,1239.2 564.0,1244.7 C550.8,1253.3 528.4,1263.0 510.0,1272.0 C491.1,1281.3 473.8,1289.8 452.2,1299.7 C425.1,1312.2 388.8,1328.9 360.0,1340.5 C335.2,1350.5 313.0,1358.5 290.0,1366.0 C268.1,1373.2 246.7,1378.5 225.0,1384.8"/>
<circle cx="128.0" cy="1071.0" r="18.5" fill="#fff" stroke-width="3.5"/>
<circle cx="142.5" cy="1071.1" r="18.5" fill="#fff" stroke-width="3.5"/>
<circle cx="142.5" cy="1071.1" r="8.0" stroke-width="3"/>
<circle cx="464.0" cy="931.0" r="20.5" fill="#fff" stroke-width="3.5"/>
<circle cx="483.3" cy="928.4" r="20.5" fill="#fff" stroke-width="3.5"/>
<circle cx="483.3" cy="928.4" r="8.0" stroke-width="3"/>
<circle cx="565.9" cy="1204.0" r="20.4" fill="#fff" stroke-width="3.5"/>
<circle cx="585.3" cy="1208.3" r="20.4" fill="#fff" stroke-width="3.5"/>
<circle cx="585.3" cy="1208.3" r="7.5" stroke-width="3"/>
<circle cx="213.0" cy="1349.0" r="18.5" fill="#fff" stroke-width="3.5"/>
<circle cx="226.8" cy="1357.3" r="18.5" fill="#fff" stroke-width="3.5"/>
<circle cx="226.8" cy="1357.3" r="7.5" stroke-width="3"/>
<circle cx="472.6" cy="1020.3" r="29.0" stroke-width="3"/>
<circle cx="472.6" cy="1020.3" r="25.8" stroke-width="2"/>
<g transform="translate(472.6 1020.3) rotate(-15.0)" stroke-width="2.6">
<path d="M2.8,2.8 L21.8,2.8 A22.0,22.0 0 0 1 2.8,21.8 Z"/>
<path d="M-2.8,2.8 L-2.8,21.8 A22.0,22.0 0 0 1 -21.8,2.8 Z"/>
<path d="M-2.8,-2.8 L-21.8,-2.8 A22.0,22.0 0 0 1 -2.8,-21.8 Z"/>
<path d="M2.8,-2.8 L2.8,-21.8 A22.0,22.0 0 0 1 21.8,-2.8 Z"/>
</g>
<circle cx="231.2" cy="1119.9" r="29.0" stroke-width="3"/>
<circle cx="231.2" cy="1119.9" r="25.8" stroke-width="2"/>
<g transform="translate(231.2 1119.9) rotate(-15.0)" stroke-width="2.6">
<path d="M2.8,2.8 L21.8,2.8 A22.0,22.0 0 0 1 2.8,21.8 Z"/>
<path d="M-2.8,2.8 L-2.8,21.8 A22.0,22.0 0 0 1 -21.8,2.8 Z"/>
<path d="M-2.8,-2.8 L-21.8,-2.8 A22.0,22.0 0 0 1 -2.8,-21.8 Z"/>
<path d="M2.8,-2.8 L2.8,-21.8 A22.0,22.0 0 0 1 21.8,-2.8 Z"/>
</g>
<circle cx="383.0" cy="1258.9" r="29.0" stroke-width="3"/>
<circle cx="383.0" cy="1258.9" r="25.8" stroke-width="2"/>
<g transform="translate(383.0 1258.9) rotate(-15.0)" stroke-width="2.6">
<path d="M2.8,2.8 L21.8,2.8 A22.0,22.0 0 0 1 2.8,21.8 Z"/>
<path d="M-2.8,2.8 L-2.8,21.8 A22.0,22.0 0 0 1 -21.8,2.8 Z"/>
<path d="M-2.8,-2.8 L-21.8,-2.8 A22.0,22.0 0 0 1 -2.8,-21.8 Z"/>
<path d="M2.8,-2.8 L2.8,-21.8 A22.0,22.0 0 0 1 21.8,-2.8 Z"/>
</g>
<path stroke-width="2.6" d="M337,1076 L383,1050.5 L404.3,1047.8 C415,1075 428,1105 436.3,1148 C420,1162 395,1172 368,1175.5 C355,1150 345,1115 337,1076 Z"/>
<path stroke-width="2.4" d="M386.6,1052.2 C398,1080 408,1110 411.4,1150 M368.9,1166.6 C390,1163 415,1156 436.3,1147"/>
<circle cx="281.7" cy="992.2" r="20.4" stroke-width="2.6" stroke-dasharray="14 6"/>
<path stroke-width="2.4" d="M273.7,973.2 A20.4,20.4 0 0 0 273.7,1011.2"/>
<path stroke-width="2.4" d="M255.7,975.2 A18.4,18.4 0 0 0 263.7,1002.2"/>
<circle cx="527.6" cy="1156.9" r="20.4" stroke-width="2.6" stroke-dasharray="14 6"/>
<path stroke-width="2.4" d="M519.6,1137.9 A20.4,20.4 0 0 0 519.6,1175.9"/>
<path stroke-width="2.4" d="M501.6,1139.9 A18.4,18.4 0 0 0 509.6,1166.9"/>
<circle cx="207.2" cy="1287.2" r="20.4" stroke-width="2.6" stroke-dasharray="14 6"/>
<path stroke-width="2.4" d="M199.2,1268.2 A20.4,20.4 0 0 0 199.2,1306.2"/>
<path stroke-width="2.4" d="M181.2,1270.2 A18.4,18.4 0 0 0 189.2,1297.2"/>
<g transform="translate(296.0 1025.0) scale(1.00)" stroke-width="2.4"><path d="M9,1 L13,17 L3,20 L1,26 L24,29 L26,35 L43,33 L45,27 L41,24 L45,18 L41,12 L12,0 Z"/><path d="M13,17 L38,16 M24,29 L40,27 M11,3 L39,14 M17,21 L41,21"/></g>
<g transform="translate(470.0 1175.5) scale(1.00)" stroke-width="2.4"><path d="M9,1 L13,17 L3,20 L1,26 L24,29 L26,35 L43,33 L45,27 L41,24 L45,18 L41,12 L12,0 Z"/><path d="M13,17 L38,16 M24,29 L40,27 M11,3 L39,14 M17,21 L41,21"/></g>
<g transform="translate(247.0 1267.7) scale(1.00)" stroke-width="2.4"><path d="M9,1 L13,17 L3,20 L1,26 L24,29 L26,35 L43,33 L45,27 L41,24 L45,18 L41,12 L12,0 Z"/><path d="M13,17 L38,16 M24,29 L40,27 M11,3 L39,14 M17,21 L41,21"/></g>
<clipPath id="lcdtop"><path d="M700,1000 L1100,1000 L1100,1072 L1059.1,1074.7 L974.6,1102.9 L920,1124.4 L850,1156 L762.8,1194.8 L700,1200 Z"/></clipPath>
<g clip-path="url(#lcdtop)">
<circle cx="821.1" cy="1171.8" r="18" fill="#fff" stroke-width="2.8"/>
<circle cx="888.2" cy="1142.8" r="18" fill="#fff" stroke-width="2.8"/>
<circle cx="956.8" cy="1115.4" r="18" fill="#fff" stroke-width="2.8"/>
</g>
<circle cx="730.5" cy="1300.0" r="17.5" fill="#fff" stroke-width="2.6"/>
<circle cx="749.6" cy="1354.7" r="17.5" fill="#fff" stroke-width="2.6"/>
<circle cx="768.6" cy="1411.0" r="17.5" fill="#fff" stroke-width="2.6"/>
<path stroke-width="4.5" d="M956.4,1491.9 L839,1530.1 C822,1536 806,1535 796,1528 C790,1524 786,1519 781,1512 L691.6,1238.7 C688,1225 690,1212 697,1203 C701,1197 705,1193 709.8,1189.9 L1039.2,1054.8 C1052,1050 1066,1052 1078,1060 C1088,1068 1093,1078 1095.5,1089.6"/>
<path stroke-width="2.6" d="M704.5,1230.0 C708.2,1256.6 708.3,1277.4 715.6,1309.9 C727.6,1363.5 760.3,1494.2 781.0,1518.5 C787.4,1526.1 793.7,1524.8 800.0,1528.0"/>
<path stroke-width="2.8" d="M1095.5,1089.6 C1098.3,1091.0 1101.0,1090.9 1103.8,1093.8 C1109.8,1100.0 1116.2,1124.8 1122.0,1132.7 C1125.1,1136.9 1128.9,1137.3 1131.0,1141.0 C1133.6,1145.6 1132.8,1152.4 1134.5,1159.2 C1136.7,1168.0 1140.0,1182.4 1143.5,1189.0 C1145.5,1192.8 1148.4,1193.5 1150.0,1197.0 C1152.1,1201.7 1151.4,1208.7 1153.0,1215.5 C1155.0,1224.3 1158.4,1238.8 1161.8,1245.3 C1163.7,1249.0 1166.5,1249.6 1168.0,1253.0 C1170.1,1257.7 1169.7,1264.4 1171.0,1271.8 C1172.8,1282.3 1175.8,1297.9 1178.3,1310.0 C1180.5,1320.9 1182.8,1330.8 1185.0,1341.2"/>
<path stroke-width="3.2" d="M1185,1341.2 L1184,1350 C1175,1358 1172,1368 1172,1380 L1176.7,1392.5 L1069,1443.9 C1064,1446 1060,1444 1057.4,1437.2 L1045.8,1399 C1044,1395 1041,1394 1039.2,1394.2 L952,1429 C949,1431 948.5,1434 949.8,1437 L961.4,1478.6 C962.5,1484 961,1488 956.4,1491.9"/>
<path stroke-width="2.6" d="M963,1477 L1055.8,1437.2"/>
<path stroke-width="3" d="M731.3,1196.5 L762.8,1194.8 L850,1156 L920,1124.4 L974.6,1102.9 L1022.7,1081.3 L1059.1,1074.7"/>
<path stroke-width="3" d="M729.7,1247.8 C731.3,1255.8 732.8,1262.5 734.6,1271.8 C737.1,1284.7 738.5,1300.7 742.9,1318.2 C748.9,1341.8 761.0,1373.3 770.0,1400.0 C778.7,1425.7 788.2,1457.0 795.9,1475.5 C800.6,1486.8 804.6,1493.2 809.0,1502.0"/>
<path stroke-width="2.6" d="M767.8,1235.4 L1067.4,1116.1 L1141.9,1342.9 L842.3,1462.2 Z"/>
<path stroke-width="5.5" stroke-linejoin="miter" d="M772.7,1247 L1067.4,1129.4 L1133.6,1331.3 L841.4,1450.6 Z"/>
<path stroke-width="8" stroke-linecap="butt" d="M853.9,1203.0 L981.3,1152.0"/>
<path stroke="#fff" stroke-width="3" stroke-linecap="butt" stroke-dasharray="3.5 3.5" d="M853.9,1203.0 L981.3,1152.0"/>
<path stroke-width="8" stroke-linecap="butt" d="M916.8,1426.0 L1062.4,1367.0"/>
<path stroke="#fff" stroke-width="3" stroke-linecap="butt" stroke-dasharray="3.5 3.5" d="M916.8,1426.0 L1062.4,1367.0"/>
<circle cx="843.1" cy="1180.8" r="17" fill="#fff" stroke-width="3"/>
<circle cx="910.2" cy="1151.8" r="17" fill="#fff" stroke-width="3"/>
<circle cx="978.8" cy="1124.4" r="17" fill="#fff" stroke-width="3"/>
<circle cx="754.5" cy="1304.0" r="17" fill="#fff" stroke-width="3"/>
<circle cx="773.6" cy="1358.7" r="17" fill="#fff" stroke-width="3"/>
<circle cx="792.6" cy="1415.0" r="17" fill="#fff" stroke-width="3"/>
<circle cx="1114.6" cy="1153.4" r="17" fill="#fff" stroke-width="3"/>
<circle cx="1133.6" cy="1209.7" r="17" fill="#fff" stroke-width="3"/>
<circle cx="1151.8" cy="1266.0" r="17" fill="#fff" stroke-width="3"/>
<path stroke-width="4" d="M1120.6,1136.4 A18,18 0 0 1 1128.6,1163.4"/>
<path stroke-width="4" d="M1139.6,1192.7 A18,18 0 0 1 1147.6,1219.7"/>
<path stroke-width="4" d="M1157.8,1249.0 A18,18 0 0 1 1165.8,1276.0"/>
<path stroke-width="4.5" d="M741.5,1293.0 A17,17 0 0 0 744.5,1318.0"/>
<path stroke-width="4.5" d="M760.6,1347.7 A17,17 0 0 0 763.6,1372.7"/>
<path stroke-width="4.5" d="M779.6,1404.0 A17,17 0 0 0 782.6,1429.0"/>
<circle cx="811.6" cy="1194.8" r="3.6" fill="#000" stroke="none"/>
<circle cx="760.3" cy="1269.3" r="3.6" fill="#000" stroke="none"/>
<circle cx="1012.7" cy="1111.1" r="3.6" fill="#000" stroke="none"/>
<circle cx="1094.7" cy="1131.0" r="3.6" fill="#000" stroke="none"/>
<circle cx="1151.8" cy="1304.9" r="3.6" fill="#000" stroke="none"/>
<circle cx="816.6" cy="1443.2" r="3.6" fill="#000" stroke="none"/>
<path stroke-width="3" d="M703.2,1210.6 C704.4,1207.4 706.7,1206.0 709.8,1204.0 C714.7,1200.9 723.4,1197.9 731.3,1196.5 C740.3,1194.8 759.7,1192.8 761.1,1195.7 C762.0,1197.6 753.3,1201.9 752.9,1205.6 C752.4,1209.6 758.7,1214.1 759.5,1218.8 C760.3,1223.5 759.8,1230.0 757.8,1233.7 C756.1,1236.8 753.1,1238.4 749.5,1240.4 C744.5,1243.3 736.0,1248.0 729.7,1247.8 C723.9,1247.6 717.5,1243.4 713.1,1240.4 C709.6,1238.0 706.6,1235.9 704.8,1232.1 C702.4,1226.9 701.4,1215.5 703.2,1210.6 Z"/>
<path stroke-width="2.6" d="M730.8,1196.5 L738,1218.8 L729.7,1233.7 L713.1,1240.4"/>
<circle cx="720.6" cy="1218.8" r="7.5" stroke-width="3"/>
<path stroke-width="3" d="M1021,1073 L1045.8,1068.9 L1060.8,1070.6 C1068,1073 1071,1076 1070.7,1080 L1067.4,1099.5 C1070,1103 1075,1104 1079,1102.9 L1102.1,1092.9 M1022.7,1081.3 L1021,1073 M1022.7,1081.3 L1059.1,1074.7"/>
<circle cx="1063" cy="1078" r="6" fill="#000" stroke="none"/>
<g transform="translate(877 1490) rotate(-22)" stroke-width="3"><rect x="-38" y="-19" width="76" height="38" rx="19"/><rect x="-27" y="-12" width="54" height="24" rx="12" stroke-width="2.4"/><ellipse cx="2" cy="0" rx="16" ry="9" stroke-width="2"/><path stroke-width="2" d="M-10,-6 L12,6 M2,-9 L2,9"/></g>
<path stroke-width="3" d="M855,1468 L900,1452 M897,1455 L930,1444 M905,1462 L935,1453"/>
<g transform="translate(1138 1380) rotate(-22)" stroke-width="3"><rect x="-30" y="-16" width="60" height="32" rx="16"/><rect x="-19" y="-10" width="44" height="20" rx="10" stroke-width="2.4"/><path stroke-width="2" d="M-8,-5 L10,5 M2,-8 L2,8"/></g>
<path stroke-width="3" d="M1065.7,1392.5 L1156.8,1359.4 M1074,1417.4 L1173.4,1377.6 M1068,1394 L1074,1417"/>
<path stroke-width="3" d="M781,1475.5 L799,1477 M781,1475.5 L790,1499 M812,1497 L822,1525 M815,1494 C822,1491 830,1490 836,1492 C840,1500 844,1515 847,1527"/>
<circle cx="804" cy="1505" r="8" stroke-width="3"/><path stroke-width="4.5" d="M808,1497 A8,8 0 0 1 806,1513"/>
<path stroke-width="3.0" d="M1909.0,1556.0 L2263.9,1412.7 C2298.3,1398.8 2338.0,1436.0 2358.4,1501.3 L2428.7,1726.0 C2438.6,1757.6 2417.7,1791.9 2379.1,1807.7 L2044.0,1944.9 C2010.7,1958.5 1973.1,1925.1 1954.4,1865.3 L1880.6,1628.8 C1870.7,1597.3 1882.7,1566.7 1909.0,1556.0 Z"/>
<path stroke-width="2.4" d="M1910.9,1560.2 L2265.2,1417.0 C2297.5,1404.0 2335.1,1440.2 2354.9,1503.3 L2425.0,1727.5 C2434.1,1756.8 2414.4,1788.9 2377.9,1803.9 L2043.3,1940.9 C2012.1,1953.6 1976.6,1921.2 1958.6,1863.6 L1884.9,1627.6 C1875.8,1598.3 1886.7,1569.9 1910.9,1560.2 Z"/>
<path stroke-width="3.0" d="M1920.1,1570.1 L2271.0,1428.3 C2297.9,1417.5 2330.4,1451.3 2348.4,1508.9 L2418.3,1732.4 C2425.8,1756.2 2408.6,1782.6 2377.5,1795.4 L2046.3,1931.0 C2020.5,1941.5 1990.1,1911.5 1973.9,1859.5 L1900.4,1624.3 C1893.0,1600.5 1901.3,1577.7 1920.1,1570.1 Z"/>
<path stroke-width="2.4" d="M1921.9,1573.5 L2271.0,1432.4 C2295.8,1422.4 2326.2,1455.3 2343.5,1510.6 L2413.8,1735.3 C2420.5,1756.9 2404.4,1781.1 2375.4,1793.0 L2046.1,1927.8 C2022.4,1937.5 1994.1,1908.4 1978.5,1858.6 L1904.8,1622.3 C1898.0,1600.8 1905.2,1580.2 1921.9,1573.5 Z"/>
<path stroke-width="3.2" d="M1926.6,1579.9 L2271.4,1440.6 C2291.9,1432.3 2318.2,1463.2 2334.1,1514.1 L2405.2,1741.3 C2410.6,1758.5 2396.6,1778.3 2371.9,1788.4 L2046.8,1921.5 C2027.5,1929.4 2003.2,1902.2 1989.1,1856.8 L1914.5,1618.1 C1909.2,1600.9 1914.3,1584.9 1926.6,1579.9 Z"/>
<path stroke-width="3.0" d="M1222.4,1377.1 C1222.0,1368.4 1221.6,1361.5 1223.3,1354.0 C1225.1,1346.2 1228.3,1338.1 1233.1,1331.0 C1238.4,1323.2 1245.5,1316.0 1254.4,1309.7 C1265.3,1302.0 1278.2,1297.8 1295.2,1290.1 C1322.8,1277.5 1368.8,1258.5 1405.0,1243.0 C1440.4,1227.8 1474.8,1210.9 1510.0,1197.9 C1544.3,1185.2 1591.8,1168.5 1613.5,1165.7 C1623.1,1164.4 1628.1,1165.2 1634.8,1166.6 C1641.1,1168.0 1646.2,1170.8 1652.6,1173.7 C1660.2,1177.1 1670.4,1180.8 1677.4,1186.1 C1683.9,1191.0 1688.7,1196.7 1693.4,1203.9 C1699.1,1212.6 1702.0,1223.1 1707.6,1235.8 C1715.8,1254.4 1729.1,1280.8 1737.7,1305.0 C1746.7,1330.4 1753.2,1361.5 1760.0,1385.0 C1765.4,1403.6 1771.1,1420.3 1775.0,1435.0 C1778.0,1446.4 1779.6,1454.4 1782.0,1465.5 C1784.9,1478.9 1790.9,1498.0 1791.0,1509.8 C1791.1,1517.6 1789.8,1522.6 1787.4,1529.3 C1784.5,1537.3 1778.7,1547.4 1773.2,1554.2 C1768.4,1560.1 1765.6,1562.9 1757.2,1568.4 C1736.6,1581.8 1679.4,1604.4 1640.0,1622.0 C1600.3,1639.7 1559.8,1659.2 1520.0,1674.2 C1482.0,1688.5 1433.7,1705.9 1406.3,1710.5 C1391.3,1713.0 1381.7,1713.0 1370.8,1711.4 C1361.2,1710.0 1352.2,1707.0 1344.2,1702.5 C1336.2,1698.1 1329.9,1693.5 1322.9,1684.8 C1311.6,1670.6 1299.6,1642.6 1290.0,1620.0 C1280.0,1596.6 1272.7,1572.7 1264.3,1546.4 C1254.8,1516.6 1243.2,1474.0 1236.6,1450.0 C1232.7,1435.8 1230.0,1427.9 1227.7,1416.1 C1225.2,1403.6 1222.9,1388.4 1222.4,1377.1 Z"/>
<path stroke-width="2.6" d="M1249.0,1371.8 C1249.9,1361.7 1252.0,1353.2 1256.1,1345.1 C1260.3,1336.9 1264.0,1330.7 1273.9,1323.0 C1294.9,1306.7 1351.0,1287.8 1390.0,1270.0 C1429.7,1252.0 1468.5,1231.4 1510.0,1215.6 C1552.4,1199.5 1620.1,1175.8 1641.9,1174.6 C1649.0,1174.2 1651.1,1175.4 1656.1,1177.3 C1662.7,1179.8 1671.8,1185.0 1677.4,1189.7 C1681.9,1193.5 1684.5,1196.4 1688.0,1202.1 C1693.9,1211.8 1699.2,1227.4 1705.8,1244.7 C1715.7,1271.0 1729.2,1311.9 1740.0,1345.0 C1750.4,1377.0 1762.6,1414.1 1769.6,1440.0 C1774.4,1457.7 1777.7,1472.1 1780.0,1485.0 C1781.7,1494.5 1783.3,1502.0 1783.0,1510.0 C1782.7,1517.3 1781.7,1524.3 1779.0,1531.0 C1776.2,1538.0 1771.2,1545.7 1766.0,1551.0 C1761.3,1555.8 1758.0,1557.4 1750.0,1562.0 C1730.0,1573.5 1677.5,1596.6 1640.0,1614.0 C1600.9,1632.2 1561.5,1653.5 1520.0,1668.8 C1477.7,1684.3 1412.1,1704.0 1388.5,1706.1 C1380.0,1706.8 1376.8,1706.5 1370.8,1704.3 C1363.3,1701.5 1355.3,1698.0 1347.7,1688.4 C1331.2,1667.5 1314.7,1606.5 1300.0,1565.0 C1285.4,1523.7 1267.8,1465.4 1259.9,1440.0 C1256.4,1428.9 1254.4,1425.4 1252.6,1416.1 C1250.2,1403.7 1247.9,1384.6 1249.0,1371.8 Z"/>
<path stroke-width="2.6" d="M1257.0,1371.8 C1257.0,1365.2 1257.2,1360.1 1259.7,1354.0 C1262.9,1346.0 1267.3,1337.6 1277.4,1329.2 C1297.8,1312.3 1351.8,1294.5 1390.0,1277.0 C1429.3,1259.0 1468.6,1238.5 1510.0,1222.7 C1552.4,1206.6 1618.2,1183.5 1641.9,1181.7 C1650.5,1181.1 1654.0,1182.3 1659.7,1184.4 C1665.8,1186.6 1672.4,1191.1 1677.4,1195.0 C1681.6,1198.3 1684.2,1200.3 1688.0,1205.6 C1695.4,1216.0 1705.2,1237.0 1712.9,1257.1 C1722.9,1283.2 1731.1,1319.3 1740.0,1350.0 C1748.8,1380.2 1760.0,1415.0 1766.1,1440.0 C1770.4,1457.5 1773.2,1472.5 1775.0,1485.0 C1776.3,1493.9 1777.4,1500.6 1777.0,1508.0 C1776.6,1514.9 1775.6,1521.6 1773.0,1528.0 C1770.2,1534.9 1765.2,1542.7 1760.0,1548.0 C1755.3,1552.8 1751.9,1554.5 1744.0,1559.0 C1724.7,1570.0 1676.0,1590.8 1640.0,1607.0 C1601.5,1624.4 1559.7,1643.8 1520.0,1660.0 C1481.8,1675.6 1428.0,1698.6 1406.3,1702.5 C1398.0,1704.0 1394.6,1703.5 1388.5,1702.5 C1381.6,1701.4 1374.3,1702.1 1367.2,1695.5 C1349.7,1679.3 1331.5,1612.4 1315.0,1570.0 C1298.4,1527.2 1276.2,1471.2 1267.9,1440.0 C1263.4,1423.1 1262.9,1412.2 1261.0,1400.0 C1259.4,1389.8 1257.0,1380.1 1257.0,1371.8 Z"/>
<path stroke-width="2.8" d="M1273.9,1398.4 C1272.1,1386.2 1269.7,1372.9 1272.1,1362.9 C1274.1,1354.5 1276.5,1348.9 1284.5,1341.6 C1302.8,1324.9 1361.9,1305.4 1400.0,1288.0 C1437.1,1271.1 1471.5,1253.7 1510.0,1238.7 C1550.8,1222.8 1615.1,1198.0 1638.4,1195.9 C1646.9,1195.2 1650.7,1196.5 1656.1,1198.5 C1661.3,1200.4 1665.5,1203.6 1670.3,1207.4 C1676.1,1212.1 1682.4,1215.8 1688.0,1225.2 C1699.8,1244.9 1708.9,1294.7 1720.0,1330.0 C1731.4,1366.3 1747.8,1411.2 1755.5,1440.0 C1760.3,1458.1 1763.1,1472.1 1765.0,1485.0 C1766.4,1494.5 1767.6,1502.2 1767.0,1510.0 C1766.4,1517.1 1764.9,1524.0 1762.0,1530.0 C1759.2,1535.9 1754.6,1541.6 1750.0,1546.0 C1745.6,1550.2 1742.4,1551.9 1735.0,1556.0 C1717.2,1566.0 1673.6,1584.7 1640.0,1600.0 C1602.4,1617.2 1559.0,1638.6 1520.0,1654.0 C1484.2,1668.2 1438.7,1686.1 1415.1,1690.1 C1403.5,1692.0 1394.8,1691.9 1388.5,1690.1 C1384.6,1689.0 1383.0,1688.6 1379.7,1684.8 C1367.9,1671.1 1345.9,1605.5 1330.0,1565.0 C1313.9,1523.9 1293.2,1470.7 1283.9,1440.0 C1278.6,1422.6 1275.8,1411.8 1273.9,1398.4 Z"/>
<path stroke-width="2.8" d="M1286.3,1378.8 C1286.5,1373.7 1287.5,1370.1 1289.8,1366.4 C1292.4,1362.3 1295.6,1360.0 1302.2,1355.8 C1320.1,1344.4 1374.7,1322.3 1410.0,1306.0 C1444.0,1290.3 1473.5,1274.8 1510.0,1260.0 C1552.6,1242.7 1626.0,1213.7 1650.8,1210.1 C1659.3,1208.9 1662.9,1209.1 1668.5,1211.0 C1674.7,1213.1 1681.8,1218.5 1686.3,1223.4 C1690.3,1227.7 1691.8,1230.7 1695.0,1238.0 C1702.9,1255.8 1715.8,1302.7 1725.0,1335.0 C1734.1,1366.7 1741.8,1401.4 1750.0,1430.0 C1756.8,1453.8 1766.8,1478.9 1770.0,1495.0 C1771.8,1504.2 1772.6,1509.6 1772.0,1517.0 C1771.4,1524.6 1770.0,1534.1 1766.0,1540.0 C1762.3,1545.5 1758.1,1547.3 1750.0,1552.0 C1730.1,1563.4 1678.8,1581.2 1640.0,1598.0 C1596.0,1617.0 1542.1,1645.8 1500.0,1660.6 C1467.2,1672.1 1427.2,1681.3 1410.0,1684.0 C1403.2,1685.1 1400.2,1686.9 1395.6,1684.8 C1388.7,1681.7 1383.0,1672.1 1376.1,1660.0 C1362.2,1635.6 1343.5,1578.4 1330.0,1540.0 C1317.8,1505.3 1304.1,1463.7 1298.0,1440.0 C1294.7,1427.2 1293.9,1420.1 1292.0,1410.0 C1290.0,1399.7 1285.9,1386.8 1286.3,1378.8 Z"/>
<path stroke-width="2.8" d="M1367.2,1638.7 L1397.4,1606.8 C1405,1601 1412,1599 1422.2,1596.1 L1705.8,1479.7 C1713,1474 1720,1471 1728.8,1470.8 L1773.2,1472.6"/>
<path stroke-width="5" d="M1367.4,1393.0 L1623.9,1290.2 C1628.2,1288.5 1632.3,1290.4 1633.7,1294.8 L1687.6,1464.4 C1689.0,1468.8 1686.9,1473.3 1682.6,1475.1 L1424.3,1582.4 C1420.0,1584.2 1415.9,1582.3 1414.6,1577.8 L1362.3,1403.7 C1361.0,1399.2 1363.1,1394.7 1367.4,1393.0 Z"/>
<path stroke-width="2.2" d="M1364.9,1390.2 L1626.4,1285.3 C1631.8,1283.1 1636.9,1285.6 1638.7,1291.1 L1694.2,1465.8 C1695.9,1471.3 1693.3,1477.0 1688.0,1479.2 L1424.5,1588.7 C1419.1,1590.9 1414.0,1588.5 1412.4,1582.9 L1358.5,1403.5 C1356.8,1397.9 1359.5,1392.3 1364.9,1390.2 Z"/>
<path stroke-width="2.6" d="M1360.5,1388.0 L1630.7,1279.7 C1636.1,1277.5 1641.3,1280.0 1643.0,1285.5 L1701.4,1469.2 C1703.1,1474.7 1700.5,1480.3 1695.2,1482.5 L1422.8,1595.7 C1417.5,1597.9 1412.4,1595.5 1410.7,1590.0 L1354.1,1401.3 C1352.4,1395.8 1355.1,1390.2 1360.5,1388.0 Z"/>
<ellipse cx="1416.7" cy="1328.3" rx="16.5" ry="18" stroke-width="3"/>
<ellipse cx="1484.1" cy="1300.8" rx="16.5" ry="18" stroke-width="3"/>
<ellipse cx="1551.4" cy="1272.2" rx="16.5" ry="18" stroke-width="3"/>
<ellipse cx="1327.3" cy="1451.5" rx="16.5" ry="18" stroke-width="3"/>
<ellipse cx="1346.8" cy="1506.5" rx="16.5" ry="18" stroke-width="3"/>
<ellipse cx="1365.5" cy="1562.4" rx="16.5" ry="18" stroke-width="3"/>
<ellipse cx="1687.2" cy="1300.5" rx="16.5" ry="18" stroke-width="3"/>
<path stroke-width="3" d="M1689.2,1282.5 C1706.2,1286.5 1704.2,1312.5 1689.2,1318.5"/>
<ellipse cx="1706.7" cy="1357.3" rx="16.5" ry="18" stroke-width="3"/>
<path stroke-width="3" d="M1708.7,1339.3 C1725.7,1343.3 1723.7,1369.3 1708.7,1375.3"/>
<ellipse cx="1724.4" cy="1414.1" rx="16.5" ry="18" stroke-width="3"/>
<path stroke-width="3" d="M1726.4,1396.1 C1743.4,1400.1 1741.4,1426.1 1726.4,1432.1"/>
<g transform="translate(1451.5 1636.0) rotate(-24.0)">
<rect x="-48" y="-25.5" width="96" height="51" rx="25.5" fill="#000" stroke-width="1.5"/>
<rect x="-37.5" y="-16" width="75" height="32" rx="16" fill="#fff" stroke="none"/>
<circle cx="-22" cy="4" r="3.9" stroke-width="2.4"/>
<circle cx="-15" cy="-5" r="3.9" stroke-width="2.4"/>
<circle cx="-10" cy="9" r="3.9" stroke-width="2.4"/>
<circle cx="-5" cy="1" r="3.9" stroke-width="2.4"/>
<circle cx="-1" cy="-9" r="3.9" stroke-width="2.4"/>
<circle cx="3" cy="9" r="3.9" stroke-width="2.4"/>
<circle cx="8" cy="0" r="3.9" stroke-width="2.4"/>
<circle cx="12" cy="-9" r="3.9" stroke-width="2.4"/>
<circle cx="17" cy="7" r="3.9" stroke-width="2.4"/>
<circle cx="22" cy="-2" r="3.9" stroke-width="2.4"/>
</g>
<g transform="translate(1711.5 1529.3) rotate(-24.0)">
<rect x="-48" y="-25.5" width="96" height="51" rx="25.5" fill="#000" stroke-width="1.5"/>
<rect x="-37.5" y="-16" width="75" height="32" rx="16" fill="#fff" stroke="none"/>
<circle cx="-22" cy="4" r="3.9" stroke-width="2.4"/>
<circle cx="-15" cy="-5" r="3.9" stroke-width="2.4"/>
<circle cx="-10" cy="9" r="3.9" stroke-width="2.4"/>
<circle cx="-5" cy="1" r="3.9" stroke-width="2.4"/>
<circle cx="-1" cy="-9" r="3.9" stroke-width="2.4"/>
<circle cx="3" cy="9" r="3.9" stroke-width="2.4"/>
<circle cx="8" cy="0" r="3.9" stroke-width="2.4"/>
<circle cx="12" cy="-9" r="3.9" stroke-width="2.4"/>
<circle cx="17" cy="7" r="3.9" stroke-width="2.4"/>
<circle cx="22" cy="-2" r="3.9" stroke-width="2.4"/>
</g>
<filter id="nolcd" x="-10%" y="-10%" width="120%" height="120%"><feOffset dx="0" dy="0"/></filter>
<text filter="url(#nolcd)" x="0" y="0" transform="translate(1497 1630) rotate(-21.5)" font-family="Liberation Sans" font-weight="bold" font-style="italic" font-size="50" textLength="180" lengthAdjust="spacingAndGlyphs" fill="#fff" stroke="#000" stroke-width="5.5" stroke-linejoin="round" paint-order="stroke" opacity="0.99">Kawasaki</text>
<path stroke-width="3" d="M2655.5,1269.9 C2636.6,1277.0 2616.9,1281.2 2598.7,1291.2 C2579.0,1302.0 2558.5,1319.3 2541.9,1333.7 C2527.5,1346.2 2513.7,1356.9 2504.0,1371.6 C2494.2,1386.5 2489.4,1405.8 2483.8,1422.6 C2478.5,1438.5 2473.4,1453.6 2470.8,1469.9 C2468.1,1486.7 2468.3,1505.9 2468.4,1521.9 C2468.5,1535.5 2469.3,1546.8 2470.8,1559.8 C2472.4,1573.6 2475.2,1587.3 2477.8,1602.4 C2480.7,1619.4 2484.0,1638.3 2487.3,1656.8 C2490.7,1676.1 2495.9,1699.7 2498.0,1715.9 C2499.5,1727.0 2500.1,1734.3 2500.3,1744.3 C2500.6,1755.5 2499.8,1770.1 2499.1,1780.0 C2498.6,1787.0 2498.8,1789.5 2497.0,1798.0 C2492.4,1820.3 2471.3,1879.0 2461.5,1916.5 C2452.8,1949.7 2441.5,1983.5 2440.2,2011.2 C2439.2,2032.4 2440.6,2050.7 2447.3,2068.0 C2454.0,2085.4 2466.2,2103.4 2480.4,2115.2 C2494.6,2127.0 2515.1,2131.0 2532.5,2138.9 C2549.8,2146.8 2570.0,2151.7 2584.5,2162.5 C2598.1,2172.6 2608.6,2184.7 2617.6,2200.4 C2628.6,2219.5 2633.0,2249.2 2641.3,2271.4 C2648.8,2291.5 2653.3,2312.9 2664.9,2328.1 C2675.8,2342.4 2691.4,2353.3 2707.5,2361.2 C2724.3,2369.4 2744.0,2370.3 2764.3,2375.4 C2787.7,2381.3 2813.1,2385.6 2840.0,2394.4 C2872.3,2405.0 2912.3,2426.4 2944.0,2437.0 C2969.6,2445.6 2992.5,2452.9 3015.0,2455.8 C3034.8,2458.4 3051.2,2458.6 3071.8,2455.8 C3097.5,2452.3 3128.5,2440.1 3156.9,2432.2"/>
<path stroke-width="2.8" d="M2469.6,1481.7 C2480,1484 2487,1490 2485,1498 C2483,1505 2476,1511 2469.6,1514.8 M2470.5,1491 L2483,1498"/>
<path stroke-width="3" d="M2484.5,1421.5 L3157,1060.3"/>
<path stroke-width="3" d="M2479,1603.5 L3157,1232"/>
<path stroke-width="3" d="M2488.5,1658 L3157,1286.4"/>
<path stroke-width="3" d="M2500.3,1743.1 L3157,1366.8"/>
<path stroke-width="3" d="M2848,1560 L2822.4,1572.8 L3157,1378.7"/>
<path stroke-width="3" d="M2822.4,1572.8 C2846.8,1560.6 2877.7,1541.8 2895.7,1536.1 C2905.4,1533.0 2911.2,1531.7 2919.3,1532.6 C2928.4,1533.6 2940.0,1537.9 2947.7,1543.2 C2954.7,1548.0 2959.6,1553.8 2964.3,1562.1 C2970.7,1573.4 2973.1,1591.0 2978.5,1607.1 C2984.8,1626.0 2992.6,1645.7 3000.0,1668.6 C3009.2,1697.0 3014.9,1740.1 3029.0,1765.0 C3040.0,1784.4 3056.7,1794.4 3070.0,1810.0 C3083.6,1826.0 3097.3,1841.1 3109.6,1859.8 C3123.4,1880.8 3143.0,1908.2 3147.5,1930.7 C3151.2,1948.8 3151.5,1966.1 3142.7,1982.8 C3130.3,2006.3 3094.0,2027.2 3062.3,2049.0 C3022.6,2076.3 2965.3,2108.0 2920.4,2129.4 C2882.4,2147.5 2841.5,2162.2 2811.6,2172.0 C2791.3,2178.7 2776.3,2187.0 2759.5,2186.0 C2743.2,2185.1 2726.4,2177.7 2712.2,2167.3 C2695.9,2155.4 2685.3,2134.8 2669.7,2115.2 C2649.9,2090.4 2618.6,2057.8 2603.4,2030.0 C2591.1,2007.6 2587.5,1988.1 2580.0,1964.0 C2571.2,1935.6 2562.3,1900.3 2555.0,1870.0 C2548.2,1842.0 2538.2,1810.8 2537.2,1788.8 C2536.5,1773.9 2535.9,1761.2 2542.0,1751.0 C2548.3,1740.5 2560.2,1737.1 2575.0,1727.3 C2603.1,1708.6 2658.6,1675.9 2700.0,1650.0 C2741.1,1624.3 2781.6,1598.5 2822.4,1572.8"/>
<path stroke-width="2.8" d="M2600.0,1709.0 C2647.3,1680.9 2692.6,1647.2 2741.9,1624.8 C2790.4,1602.8 2864.5,1581.3 2893.3,1575.2 C2904.4,1572.8 2909.6,1571.1 2917.0,1572.8 C2924.6,1574.5 2932.4,1580.1 2938.3,1585.8 C2944.3,1591.5 2947.0,1596.8 2952.5,1607.1 C2964.6,1629.6 2986.3,1681.9 3000.0,1720.6 C3013.8,1759.5 3026.7,1805.0 3035.0,1840.0 C3041.3,1866.8 3048.3,1891.6 3048.0,1911.8 C3047.8,1926.5 3046.5,1939.9 3040.0,1950.0 C3033.7,1959.9 3023.7,1963.9 3010.0,1972.0 C2985.3,1986.6 2935.9,2007.1 2900.0,2023.0 C2866.0,2038.0 2833.6,2051.2 2800.0,2065.0 C2766.2,2078.8 2732.0,2092.2 2698.0,2105.8"/>
<path stroke-width="3.6" d="M2600.0,1711.2 C2635.5,1695.4 2665.8,1680.3 2706.4,1663.9 C2759.2,1642.5 2862.5,1602.4 2891.0,1596.4 C2899.3,1594.6 2902.1,1594.4 2907.5,1595.3 C2913.1,1596.3 2919.6,1599.0 2924.0,1602.4 C2928.1,1605.5 2930.0,1608.0 2933.5,1614.2 C2942.1,1629.3 2953.8,1672.1 2965.0,1700.0 C2976.0,1727.3 2989.7,1751.5 3000.0,1780.0 C3011.3,1811.1 3025.7,1857.0 3029.0,1880.0 C3030.7,1891.7 3030.3,1897.6 3029.0,1907.0 C3027.6,1917.5 3024.8,1931.7 3020.0,1940.0 C3016.3,1946.4 3013.2,1948.9 3005.5,1954.4 C2987.0,1967.5 2932.1,1989.8 2900.0,2005.0 C2873.1,2017.7 2854.6,2027.8 2825.8,2039.5 C2787.4,2055.0 2734.3,2071.2 2688.6,2087.0"/>
<path stroke-width="3.2" d="M2688.6,2087 L2691,2110.5 C2685,2116 2675,2118 2665,2117.6 M2654,2098 C2660,2099 2662,2104 2663,2110"/>
<path stroke-width="3" d="M2464,2094 L2584.5,2030"/>
<path stroke-width="3" d="M3041,1760.4 L3157,1694"/>
<path stroke-width="3" d="M3157,1449 L3126,1463.5 L3157,1577 M3157,1455 L3132,1468 L3157,1562"/>
<path stroke-width="2.8" d="M2766.6,2377.8 L3157,2148.4 M2777,2380.6 L3157,2157"/>
<path stroke-width="2.8" d="M2830.5,2392 L3157,2202.8 M2838,2394 L3157,2210 M2856.5,2396.7 L3157,2221.7"/>
<path stroke-width="2.8" d="M2967.7,2335.2 L2998.4,2413.3 C3000,2425 2995,2436 2985,2442"/>
<ellipse cx="2967.7" cy="2425" rx="7" ry="11" stroke-width="2.8"/><path stroke-width="2.4" d="M2972,2414 C2978,2418 2979,2432 2974,2437"/>
<g transform="translate(3047.7 1659.6) scale(1.00 1.15)" stroke-width="2.6">
<path d="M18.8,10.4 Q6.5,11.2 -0.4,21.5 M20.5,1.1 Q25.1,6.7 20.4,9.5 M-10.4,18.8 Q-11.2,6.5 -21.5,-0.4 M-1.1,20.5 Q-6.7,25.1 -9.5,20.4 M-18.8,-10.4 Q-6.5,-11.2 0.4,-21.5 M-20.5,-1.1 Q-25.1,-6.7 -20.4,-9.5 M10.4,-18.8 Q11.2,-6.5 21.5,0.4 M1.1,-20.5 Q6.7,-25.1 9.5,-20.4 "/>
<path stroke-width="2.8" d="M2,-10 C-5,-10 -8,-4 -8,1 C-8,6 -6,8 -4,9 M6,-6 C8,-2 8,4 6,7 C4,10 1,11 -1,10.5"/>
<path stroke-width="1.8" d="M-2,-2 L1,-2"/>
</g>
<g transform="translate(2486.0 2002.0) scale(1.00 1.15)" stroke-width="2.6">
<path d="M18.8,10.4 Q6.5,11.2 -0.4,21.5 M20.5,1.1 Q25.1,6.7 20.4,9.5 M-10.4,18.8 Q-11.2,6.5 -21.5,-0.4 M-1.1,20.5 Q-6.7,25.1 -9.5,20.4 M-18.8,-10.4 Q-6.5,-11.2 0.4,-21.5 M-20.5,-1.1 Q-25.1,-6.7 -20.4,-9.5 M10.4,-18.8 Q11.2,-6.5 21.5,0.4 M1.1,-20.5 Q6.7,-25.1 9.5,-20.4 "/>
<path stroke-width="2.8" d="M2,-10 C-5,-10 -8,-4 -8,1 C-8,6 -6,8 -4,9 M6,-6 C8,-2 8,4 6,7 C4,10 1,11 -1,10.5"/>
<path stroke-width="1.8" d="M-2,-2 L1,-2"/>
</g>
<g transform="translate(2985.0 2177.0) scale(1.00 1.15)" stroke-width="2.6">
<path d="M18.8,10.4 Q6.5,11.2 -0.4,21.5 M20.5,1.1 Q25.1,6.7 20.4,9.5 M-10.4,18.8 Q-11.2,6.5 -21.5,-0.4 M-1.1,20.5 Q-6.7,25.1 -9.5,20.4 M-18.8,-10.4 Q-6.5,-11.2 0.4,-21.5 M-20.5,-1.1 Q-25.1,-6.7 -20.4,-9.5 M10.4,-18.8 Q11.2,-6.5 21.5,0.4 M1.1,-20.5 Q6.7,-25.1 9.5,-20.4 "/>
<path stroke-width="2.8" d="M2,-10 C-5,-10 -8,-4 -8,1 C-8,6 -6,8 -4,9 M6,-6 C8,-2 8,4 6,7 C4,10 1,11 -1,10.5"/>
<path stroke-width="1.8" d="M-2,-2 L1,-2"/>
</g>
<path stroke-width="3" d="M1005.5,2705.3 C1000,2702 996,2699 994.9,2694.6 C993.5,2688 992.8,2682 992.8,2675.5 L994.9,2650 C996,2640 1001,2630 1007.7,2624.4 C1013,2617 1020,2611 1029,2607.4 L1466.7,2428.4 C1480,2423 1497,2425 1509.2,2430.8 C1518,2436 1525,2449 1532.9,2463.9 C1540,2478 1554,2494 1570.7,2499.3 C1586,2503 1602,2498 1615.7,2489.9 C1626,2482 1634,2473 1646.4,2471 C1658,2469 1669,2476 1674.8,2487.5"/>
<path stroke-width="4.2" d="M1035.4,2703.2 C1027,2700 1019,2696 1016.2,2690.4 C1013,2684 1012,2677 1011.9,2671.2 C1011.5,2660 1012,2649 1014.1,2639.3 C1019,2631 1025,2625 1033.2,2620.1 L1452.5,2449.7 C1461,2446 1468,2441 1476.1,2440.2 C1486,2440 1499,2447 1509.2,2459.1"/>
<path stroke-width="2.4" d="M1001.3,2632.9 C999,2650 999,2665 1000.2,2675.5 M1459.6,2447.3 C1472,2449 1482,2452 1487,2458 C1494,2464 1498,2472 1506.9,2487.5"/>
<path stroke-width="4.5" d="M1001.3,2696.8 L1073.3,2816.8"/>
<path stroke-width="3" d="M1063,2797 C1050,2800 1045,2812 1046,2829 L1072,2817"/>
<path stroke-width="3" d="M1014.1,2673.4 L1058.8,2660.6 C1063,2660 1067,2662 1069.4,2664.8 C1072,2668 1073,2671 1073.7,2675.5 L1077.9,2701 L1086.5,2739.4"/>
<path stroke-width="3" d="M1065.2,2662.7 C1058,2670 1054,2675 1052.4,2681.9 C1050,2690 1050,2697 1050.3,2703.2 C1056,2713 1070,2727 1084.3,2739.4 L1139.6,2803.8"/>
<path stroke-width="3.0" d="M1191.6,2854.6 C1198.7,2848.3 1209.8,2842.5 1212.9,2835.7 C1215.2,2830.5 1214.3,2825.5 1212.9,2819.1 C1210.7,2809.3 1201.1,2789.3 1196.3,2783.7 C1194.3,2781.4 1192.6,2782.4 1190.8,2780.0 C1186.4,2773.9 1181.2,2753.2 1179.1,2739.4 C1177.0,2725.5 1175.4,2709.9 1178.0,2696.8 C1180.4,2684.5 1185.9,2670.7 1192.9,2662.7 C1198.6,2656.2 1205.5,2654.3 1214.2,2650.0 C1226.6,2643.8 1252.5,2637.6 1261.0,2630.8 C1265.3,2627.3 1267.7,2624.4 1268.5,2620.1 C1269.5,2614.8 1266.7,2605.1 1264.2,2601.0 C1262.6,2598.4 1260.1,2597.7 1258.0,2596.0"/>
<path stroke-width="3.0" d="M1275.0,2594.0 C1277.4,2593.5 1280.0,2591.4 1282.3,2592.5 C1286.2,2594.3 1288.3,2608.6 1293.0,2611.6 C1296.6,2613.9 1300.6,2613.5 1305.7,2612.7 C1314.5,2611.4 1329.2,2602.9 1340.0,2598.8 C1349.6,2595.2 1358.4,2589.8 1367.3,2589.2 C1375.4,2588.6 1383.7,2590.6 1391.0,2594.0 C1398.7,2597.5 1405.9,2603.0 1412.3,2610.5 C1420.5,2620.0 1427.5,2635.8 1433.5,2648.4 C1439.2,2660.2 1444.5,2671.5 1447.7,2683.9 C1451.0,2696.7 1449.1,2715.6 1452.5,2724.1 C1454.3,2728.7 1455.9,2731.7 1459.6,2733.5 C1464.8,2736.1 1477.8,2734.8 1483.2,2733.5 C1486.3,2732.8 1487.7,2731.2 1490.0,2730.0"/>
<path stroke-width="2.4" d="M1288.0,2594.0 C1290.7,2600.0 1292.2,2608.7 1296.0,2612.0 C1298.7,2614.4 1302.7,2614.0 1306.0,2615.0"/>
<path stroke-width="2.4" d="M1380.0,2592.0 C1386.7,2594.7 1393.7,2596.1 1400.0,2600.0 C1407.1,2604.4 1413.9,2610.5 1420.0,2618.0 C1427.4,2627.1 1434.3,2640.3 1440.0,2652.0 C1445.6,2663.6 1450.8,2676.0 1454.0,2688.0 C1457.0,2699.3 1456.1,2714.5 1459.0,2722.0 C1460.6,2726.2 1463.0,2728.0 1465.0,2731.0"/>
<path stroke-width="3.0" d="M1490.0,2752.0 C1487.7,2752.2 1486.4,2752.2 1483.2,2752.5 C1475.7,2753.2 1454.0,2753.0 1445.4,2757.2 C1439.7,2760.0 1437.9,2764.6 1433.5,2769.0 C1427.9,2774.6 1421.0,2784.0 1414.6,2788.0 C1409.8,2791.0 1407.2,2790.3 1400.0,2793.1 C1378.6,2801.4 1295.6,2840.3 1274.4,2847.5 C1267.5,2849.9 1265.8,2850.8 1260.2,2851.1 C1252.4,2851.6 1241.2,2845.1 1231.8,2847.5 C1220.6,2850.3 1203.5,2866.4 1198.7,2871.2 C1197.1,2872.8 1196.9,2873.7 1196.0,2875.0"/>
<path stroke-width="2.4" d="M1450.0,2762.0 C1445.7,2766.7 1441.7,2771.3 1437.0,2776.0 C1431.8,2781.2 1426.1,2787.9 1420.0,2792.0 C1414.4,2795.7 1410.7,2796.2 1402.0,2800.0 C1379.0,2810.0 1297.2,2846.3 1276.0,2853.0 C1269.2,2855.2 1267.5,2855.7 1262.0,2856.0 C1254.3,2856.4 1243.1,2850.4 1234.0,2853.0 C1223.3,2856.0 1213.3,2869.0 1203.0,2877.0"/>
<circle cx="1269.3" cy="2580.7" r="17.0" fill="#fff" stroke-width="3"/>
<circle cx="1265.3" cy="2579.7" r="17.0" fill="#fff" stroke-width="3"/>
<circle cx="1510.9" cy="2742.8" r="18.3" fill="#fff" stroke-width="3"/>
<circle cx="1506.9" cy="2741.8" r="18.3" fill="#fff" stroke-width="3"/>
<circle cx="1183.8" cy="2874.5" r="16.6" fill="#fff" stroke-width="3"/>
<circle cx="1179.8" cy="2873.5" r="16.6" fill="#fff" stroke-width="3"/>
<path stroke-width="3" fill="#fff" d="M1499.8,2501.7 L1580.2,2525.4 C1590,2526 1597,2524 1603.9,2520.6 L1670.1,2482.8 C1674,2482 1676,2484 1677.2,2487.5 L1710.3,2594 C1711,2598 1710,2600 1708,2601 L1561.3,2669.7 C1556,2670 1551,2666 1549.5,2660.2 L1495,2508.8 C1494,2504 1496,2501 1499.8,2501.7 Z"/>
<path stroke-width="4.5" d="M1561.3,2669.7 L1708,2601"/>
<path stroke-width="2.6" d="M1595.6,2537.2 L1627.5,2629.5 M1504,2505 L1575,2527"/>
<ellipse cx="1664" cy="2557.3" rx="16.5" ry="23" stroke-width="3"/>
<ellipse cx="1658.6" cy="2557.3" rx="15" ry="22.5" stroke-width="3" fill="#fff"/>
<path stroke-width="3.0" d="M1575.5,2668.5 C1579.4,2684.7 1586.6,2703.4 1587.3,2717.0 C1587.8,2726.6 1586.6,2734.6 1584.0,2742.0 C1581.6,2748.8 1577.1,2753.2 1573.0,2760.0 C1567.7,2768.8 1558.9,2779.8 1554.9,2790.2 C1551.1,2799.9 1550.2,2809.8 1548.9,2820.3 C1547.4,2831.8 1550.6,2845.2 1546.9,2856.5 C1543.1,2868.1 1532.8,2878.0 1525.8,2888.7"/>
<path stroke-width="3.0" d="M1601.5,2655.5 C1605.4,2676.0 1612.7,2700.4 1613.3,2717.0 C1613.7,2728.1 1612.6,2737.3 1610.0,2745.0 C1608.0,2751.0 1604.6,2753.9 1601.2,2760.0 C1596.0,2769.2 1586.2,2783.0 1582.0,2795.0 C1578.0,2806.3 1577.3,2818.6 1576.0,2830.0 C1574.7,2840.9 1576.4,2851.9 1574.0,2862.0 C1571.7,2871.9 1566.0,2881.0 1562.0,2890.0 C1558.3,2898.5 1554.6,2906.5 1550.9,2914.8"/>
<path stroke-width="3.0" d="M1611.0,2653.0 C1616.5,2674.3 1625.9,2699.1 1627.5,2717.0 C1628.6,2729.7 1627.5,2742.4 1625.1,2750.0 C1623.7,2754.5 1621.9,2755.6 1619.3,2760.0 C1614.3,2768.6 1602.2,2786.8 1597.0,2798.0 C1593.2,2806.2 1590.8,2811.6 1589.1,2820.3 C1586.9,2831.6 1590.2,2848.6 1587.1,2860.5 C1584.3,2871.1 1578.9,2879.8 1573.0,2888.7 C1566.9,2898.0 1558.3,2906.1 1550.9,2914.8"/>
<path stroke-width="2.4" d="M1592,2721 L1613,2722 M1558.9,2801 L1581,2802 M1545,2874.6 L1567,2879.6"/>
<path stroke-width="3" fill="#fff" d="M1033.1,2842.8 C1042.3,2834.5 1127.4,2802.0 1139.6,2803.8 C1142.4,2804.2 1142.9,2805.2 1144.3,2807.3 C1147.6,2812.3 1149.7,2830.2 1151.4,2838.1 C1152.5,2843.0 1155.0,2846.5 1153.8,2849.9 C1152.4,2853.7 1144.5,2856.2 1141.9,2859.4 C1140.0,2861.7 1138.8,2863.2 1138.4,2866.4 C1137.6,2872.6 1138.9,2890.9 1144.3,2894.8 C1148.9,2898.1 1161.3,2889.5 1165.6,2892.5 C1169.7,2895.4 1170.5,2905.6 1170.3,2911.4 C1170.1,2916.5 1168.9,2921.2 1165.6,2925.6 C1161.0,2931.7 1151.8,2936.2 1141.9,2942.1 C1127.3,2950.8 1096.1,2964.4 1085.2,2970.5 C1080.6,2973.1 1078.1,2977.0 1075.7,2976.4 C1073.5,2975.8 1070.9,2970.8 1071.0,2968.2 C1071.1,2965.7 1075.0,2965.1 1075.7,2961.1 C1078.0,2947.7 1063.1,2881.0 1052.0,2866.4 C1047.1,2860.0 1039.1,2860.8 1035.5,2857.0 C1032.8,2854.2 1030.8,2850.1 1030.8,2847.5 C1030.8,2845.7 1031.1,2844.6 1033.1,2842.8 Z"/>
<path stroke-width="2.6" d="M1054.4,2857 L1139.6,2807.3 M1059.1,2866.4 L1086.3,2965.8 M1056.8,2901.9 L1071,2946.9"/>
<ellipse cx="1099.3" cy="2899.6" rx="17" ry="23.5" transform="rotate(-12 1099.3 2899.6)" stroke-width="3"/>
<path stroke-width="2.4" d="M1092,2880 C1094,2890 1098,2896 1106,2897 C1110,2905 1108,2915 1101,2922"/>
<path stroke-width="3.0" d="M1101.7,2968.2 C1107.2,2965.8 1111.2,2962.0 1118.3,2961.1 C1129.9,2959.6 1151.7,2962.1 1165.6,2968.2 C1179.2,2974.1 1190.5,2988.1 1201.1,2996.6 C1209.8,3003.5 1216.5,3010.3 1224.7,3015.5 C1232.3,3020.4 1240.3,3025.4 1248.4,3027.3 C1256.1,3029.1 1263.5,3027.7 1272.0,3027.3 C1282.1,3026.8 1292.1,3022.3 1305.2,3023.8 C1325.3,3026.1 1351.2,3039.6 1380.0,3049.5 C1419.6,3063.1 1500.0,3083.8 1520.7,3097.8 C1528.0,3102.8 1529.5,3106.3 1532.8,3111.9 C1536.5,3118.2 1537.2,3128.8 1540.9,3134.0 C1543.7,3137.8 1546.7,3140.5 1550.9,3142.0 C1556.2,3143.9 1562.3,3144.2 1571.0,3142.0 C1590.3,3137.1 1629.3,3110.5 1658.5,3094.8"/>
<path stroke-width="3.0" d="M1111.2,2954.0 C1121.4,2954.8 1131.4,2954.5 1141.9,2956.3 C1153.4,2958.3 1166.2,2959.9 1177.4,2965.8 C1190.1,2972.5 1201.9,2988.7 1212.9,2996.6 C1221.3,3002.7 1228.3,3007.5 1236.5,3010.7 C1244.1,3013.7 1251.8,3015.3 1260.2,3015.5 C1269.8,3015.7 1282.8,3012.7 1291.0,3010.7 C1296.7,3009.3 1300.5,3007.6 1305.2,3006.0"/>
<path stroke-width="4" d="M1180,2968 L1226,3008"/>
<path stroke-width="3" d="M1253.1,2996.6 L1236.5,2949.2 C1234,2944 1234,2938 1240,2934 L1400,2871.2 L1474.5,2836.4 C1479,2834 1482,2833 1484.6,2833.4 C1490,2834 1494,2837 1496.6,2840.4"/>
<path stroke-width="4.2" d="M1496.6,2840.4 L1520.7,2884.7 C1530,2898 1540,2910 1550.9,2918.8 L1621.3,2981.2 C1626,2985 1629,2989 1631.3,2993.2"/>
<path stroke-width="3" d="M1631.3,2993.2 L1657.5,3089.7 C1658.5,3092 1658.5,3094 1658.5,3094.8"/>
<path stroke-width="3.0" d="M1238.9,2942.1 C1257.0,2955.1 1279.7,2972.5 1293.3,2981.2 C1301.1,2986.1 1303.6,2988.6 1312.2,2991.8 C1327.5,2997.5 1353.3,2999.5 1380.0,3005.3 C1418.9,3013.7 1475.2,3027.4 1522.8,3038.5"/>
<path stroke-width="3.0" d="M1524.8,3039.5 C1528.8,3044.2 1532.6,3046.3 1536.8,3053.6 C1546.1,3069.7 1556.9,3111.2 1567.0,3140.0"/>
<path stroke-width="3.0" d="M1321.7,2909.0 C1322.3,2906.5 1333.0,2901.7 1340.6,2903.1 C1355.4,2905.8 1373.2,2935.6 1400.0,2949.2 C1442.2,2970.6 1554.9,2988.3 1579.1,3000.3 C1586.0,3003.7 1588.4,3006.0 1591.1,3009.3 C1593.2,3011.8 1595.9,3014.6 1595.1,3017.4 C1593.8,3022.4 1577.8,3033.8 1571.0,3033.4 C1565.6,3033.1 1564.9,3025.8 1557.0,3021.4 C1533.4,3008.4 1432.0,2985.1 1400.0,2972.9 C1385.4,2967.3 1379.4,2966.1 1369.0,2958.7 C1355.0,2948.7 1333.5,2921.2 1326.4,2913.8 C1324.1,2911.4 1321.3,2910.4 1321.7,2909.0 Z"/>
<path stroke-width="2.4" d="M1330.0,2912.0 C1343.3,2925.3 1356.6,2943.7 1370.0,2952.0 C1380.0,2958.2 1385.7,2957.6 1400.0,2962.0 C1434.9,2972.7 1520.7,2996.2 1581.1,3013.3"/>
<path stroke-width="3" d="M1307.5,2977.6 L1357.2,2959.9 M1404.1,2942 L1514.7,2895.7"/>
<path stroke-width="3" stroke-dasharray="14 12" d="M1540.9,3037.5 L1621.3,2987.2"/>
<ellipse cx="1602.5" cy="3074.7" rx="16" ry="23" stroke-width="3"/>
<ellipse cx="1597.5" cy="3074.7" rx="15" ry="22.5" stroke-width="3" fill="#fff"/>
<path stroke-width="3" stroke-dasharray="22 18" d="M1464.4,3072.7 L1597,3075"/>
<path stroke-width="3" d="M1466,3072 L1467,3080"/>
<path stroke-width="3" stroke-dasharray="22 22" d="M1020.5,2619 L1195,2662.7"/>
<path stroke-width="3" d="M1224.8,2670.2 L1427.6,2722.9 M1504.5,2741.8 L1790.2,2816.5"/>
<path stroke-width="3" d="M1768.5,2336.7 L1551.8,2460.3"/>
<path stroke-width="3" stroke-dasharray="22 24" d="M1497.4,2491 L1400.4,2546.7 L1660,2557"/>
<ellipse cx="152.9" cy="843.3" rx="16.9" ry="19.3" stroke-width="2.8"/>
<g transform="translate(152.9 843.3) rotate(16)"><path fill="#fff" stroke-width="2.8" d="M-4,-9.5 L19,-9.5 L19,9.5 L-2,9.5 C-7,9.5 -9,5 -9,0 C-9,-5 -7,-9.5 -4,-9.5 Z"/><path stroke-width="2.4" d="M0,-8.5 C-4,-4 -4,4 0,8.5 M6,-8.5 C2,-4 2,4 6,8.5 M12,-8.5 C8,-4 8,4 12,8.5 M18,-8.5 C14,-4 14,4 18,8.5"/><circle cx="26" cy="0" r="9.3" fill="#fff" stroke-width="2.8"/><path stroke-width="2.2" d="M27,-6 C22,-5 21,3 25,5 C28,6 30,3 30,0 L26,-1"/></g>
<g transform="translate(1310.2 2319.2) rotate(0.0) scale(1.000)">
<ellipse cx="0" cy="0" rx="22.5" ry="30.3" stroke-width="3"/>
<path fill="#fff" stroke-width="3" d="M-4,-12.9 L34.3,-12.9 C37,-12.9 38,-12 39.5,-9 L46.7,1 L35.4,14.3 L2,14.3 C-6,14.3 -9,8 -9,0.5 C-9,-7 -7,-12.9 -4,-12.9 Z"/>
<path stroke-width="2.6" d="M-0.5,-12 C-6.5,-8 -7.5,-3 -7.5,1 C-7.5,6 -6.5,10 -0.5,13.5"/>
<path stroke-width="2.6" d="M6.5,-12 C0.5,-8 -0.5,-3 -0.5,1 C-0.5,6 0.5,10 6.5,13.5"/>
<path stroke-width="2.6" d="M13.0,-12 C7.0,-8 6.0,-3 6.0,1 C6.0,6 7.0,10 13.0,13.5"/>
<path stroke-width="2.6" d="M20.5,-12 C14.5,-8 13.5,-3 13.5,1 C13.5,6 14.5,10 20.5,13.5"/>
<path stroke-width="3" d="M30,-11 C26,-6 25.5,6 30,13"/>
</g>
<g transform="translate(647.6 2882.5) rotate(0.0) scale(1.000)">
<ellipse cx="0" cy="0" rx="23.0" ry="30.5" stroke-width="3"/>
<path fill="#fff" stroke-width="3" d="M-4,-12.9 L34.3,-12.9 C37,-12.9 38,-12 39.5,-9 L46.7,1 L35.4,14.3 L2,14.3 C-6,14.3 -9,8 -9,0.5 C-9,-7 -7,-12.9 -4,-12.9 Z"/>
<path stroke-width="2.6" d="M-0.5,-12 C-6.5,-8 -7.5,-3 -7.5,1 C-7.5,6 -6.5,10 -0.5,13.5"/>
<path stroke-width="2.6" d="M6.5,-12 C0.5,-8 -0.5,-3 -0.5,1 C-0.5,6 0.5,10 6.5,13.5"/>
<path stroke-width="2.6" d="M13.0,-12 C7.0,-8 6.0,-3 6.0,1 C6.0,6 7.0,10 13.0,13.5"/>
<path stroke-width="2.6" d="M20.5,-12 C14.5,-8 13.5,-3 13.5,1 C13.5,6 14.5,10 20.5,13.5"/>
<path stroke-width="3" d="M30,-11 C26,-6 25.5,6 30,13"/>
</g>
<g transform="translate(1049.7 3427.0) rotate(0.0) scale(1.000)">
<ellipse cx="0" cy="0" rx="21.5" ry="30.0" stroke-width="3"/>
<path fill="#fff" stroke-width="3" d="M-4,-12.9 L34.3,-12.9 C37,-12.9 38,-12 39.5,-9 L46.7,1 L35.4,14.3 L2,14.3 C-6,14.3 -9,8 -9,0.5 C-9,-7 -7,-12.9 -4,-12.9 Z"/>
<path stroke-width="2.6" d="M-0.5,-12 C-6.5,-8 -7.5,-3 -7.5,1 C-7.5,6 -6.5,10 -0.5,13.5"/>
<path stroke-width="2.6" d="M6.5,-12 C0.5,-8 -0.5,-3 -0.5,1 C-0.5,6 0.5,10 6.5,13.5"/>
<path stroke-width="2.6" d="M13.0,-12 C7.0,-8 6.0,-3 6.0,1 C6.0,6 7.0,10 13.0,13.5"/>
<path stroke-width="2.6" d="M20.5,-12 C14.5,-8 13.5,-3 13.5,1 C13.5,6 14.5,10 20.5,13.5"/>
<path stroke-width="3" d="M30,-11 C26,-6 25.5,6 30,13"/>
</g>
<g transform="translate(1589.8 2329.4) scale(1.000)">
<ellipse cx="-2" cy="0" rx="27.8" ry="33.3" stroke-width="3"/>
<ellipse cx="0.5" cy="0" rx="27.5" ry="33" stroke-width="3"/>
<ellipse cx="3.5" cy="0" rx="18.2" ry="22" stroke-width="3"/>
<ellipse cx="7.5" cy="0.5" rx="14" ry="19" stroke-width="3"/>
<ellipse cx="10.6" cy="0.6" rx="11" ry="14.7" stroke-width="3"/>
<path stroke-width="2.6" d="M10.6,-14 C11.5,-5 11.5,5 10,14 M11,1.6 L27,1.6"/>
</g>
<g transform="translate(844.7 2890.2) scale(0.960)">
<ellipse cx="-2" cy="0" rx="27.8" ry="33.3" stroke-width="3"/>
<ellipse cx="0.5" cy="0" rx="27.5" ry="33" stroke-width="3"/>
<ellipse cx="3.5" cy="0" rx="18.2" ry="22" stroke-width="3"/>
<ellipse cx="7.5" cy="0.5" rx="14" ry="19" stroke-width="3"/>
<ellipse cx="10.6" cy="0.6" rx="11" ry="14.7" stroke-width="3"/>
<path stroke-width="2.6" d="M10.6,-14 C11.5,-5 11.5,5 10,14 M11,1.6 L27,1.6"/>
</g>
<g transform="translate(1336.6 3438.6) scale(0.970)">
<ellipse cx="-2" cy="0" rx="27.8" ry="33.3" stroke-width="3"/>
<ellipse cx="0.5" cy="0" rx="27.5" ry="33" stroke-width="3"/>
<ellipse cx="3.5" cy="0" rx="18.2" ry="22" stroke-width="3"/>
<ellipse cx="7.5" cy="0.5" rx="14" ry="19" stroke-width="3"/>
<ellipse cx="10.6" cy="0.6" rx="11" ry="14.7" stroke-width="3"/>
<path stroke-width="2.6" d="M10.6,-14 C11.5,-5 11.5,5 10,14 M11,1.6 L27,1.6"/>
</g>
<g transform="translate(542.0 2496.3) rotate(-15)">
<path stroke-width="3" d="M21.0,0.0 L10.5,16.4 L-10.5,16.4 L-21.0,0.0 L-10.5,-16.4 L10.5,-16.4 Z"/>
<path stroke-width="2.4" d="M7.5,16.4 L-13.5,16.4 L-24.0,0.0 L-13.5,-16.4"/>
<ellipse cx="1" cy="0" rx="9" ry="10.5" stroke-width="3"/>
<ellipse cx="-3" cy="0" rx="8" ry="10" stroke-width="2.4"/>
</g>
<circle cx="786.4" cy="2557" r="32.5" stroke-width="3"/>
<circle cx="786.4" cy="2558" r="10" stroke-width="3"/>
<ellipse cx="1846.2" cy="2832.2" rx="33.0" ry="37.0" fill="#fff" stroke-width="2.6"/>
<ellipse cx="1850.2" cy="2832.2" rx="34.0" ry="38.0" fill="#fff" stroke-width="2.6"/>
<ellipse cx="1854.2" cy="2832.2" rx="35.0" ry="38.5" fill="#fff" stroke-width="3.0"/>
<ellipse cx="1858.2" cy="2832.2" rx="37.0" ry="38.4" fill="#fff" stroke-width="3.0"/>
<ellipse cx="1860.2" cy="2832.2" rx="28" ry="30" stroke-width="3"/>
<ellipse cx="1862.2" cy="2832.2" rx="22.5" ry="25" stroke-width="4"/>
<ellipse cx="1858.2" cy="2832.2" rx="13.5" ry="15.5" stroke-width="3"/>
<path stroke-width="2.6" d="M1857.2,2817.2 L1856.2,2832.2 L1845.2,2840.2 M1856.2,2832.2 L1880.2,2838.2"/>
<path stroke-width="3" d="M184.2,851.1 L351.9,895.4"/>
<path stroke-width="3" d="M483.6,927.8 L973.8,1054.3"/>
<path stroke-width="3" d="M1357.0,2320.3 L1548.5,2328.6"/>
<path stroke-width="3" d="M1616.3,2331.0 L1768.5,2336.7"/>
<path stroke-width="3" d="M694.0,2884.5 L803.3,2888.5"/>
<path stroke-width="3" d="M872.8,2890.8 L1046.7,2897.4"/>
<path stroke-width="3" d="M1096.4,3429.0 L1287.7,3437.4"/>
<path stroke-width="3" d="M1362.2,3439.6 L1594.0,3449.0"/>
<path stroke-width="3" d="M1594.0,3449.0 L1478.2,3109.1"/>
<path stroke-width="3" d="M559.3,2499.7 L738.2,2546.0"/>
<path stroke-width="3" d="M797.8,2559.4 L989.0,2610.5"/>
<path stroke-width="3" d="M1700.0,2793.2 L1790.2,2816.5"/>
<path stroke-width="3" d="M1883.3,2841.0 L2066.6,2887.0"/>
<path stroke-width="3" d="M1720.0,3080.5 L2560.3,3114.5"/>
<path stroke-width="3" d="M1600.0,3075.0 L1720.0,3081.7"/>
<path stroke-width="3" d="M2560.3,3114.5 L2160.7,2147.4"/>
<path stroke-width="3" d="M2160.7,2147.4 L2556.8,2162.5"/>
<path stroke-width="3" stroke-dasharray="25 24" d="M2595,2163.5 L2948.8,2176.7"/>
</g>
</svg>
</body></html>
